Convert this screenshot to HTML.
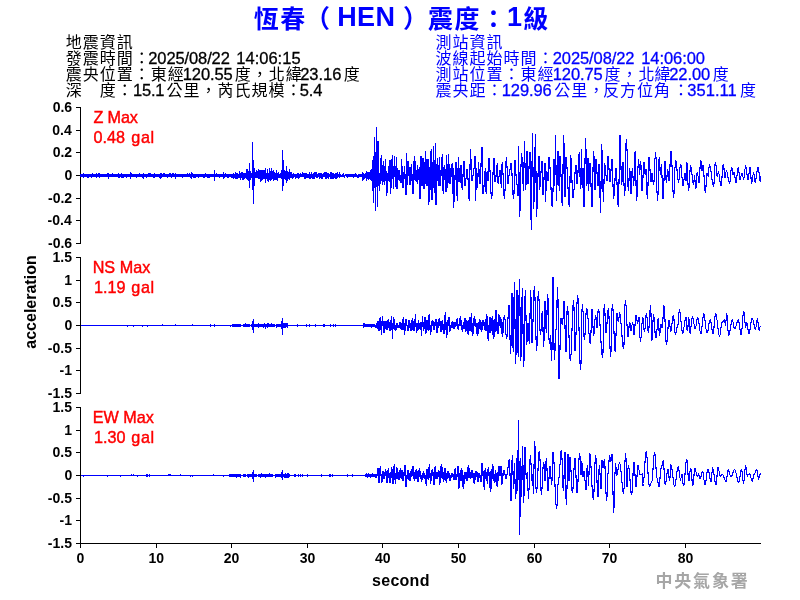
<!DOCTYPE html>
<html lang="zh-Hant"><head><meta charset="utf-8"><title>恆春（HEN）震度：1級</title>
<style>
html,body{margin:0;padding:0;background:#fff}
#p{will-change:transform;position:relative;width:800px;height:600px;overflow:hidden;background:#fff;font-family:"Liberation Sans",sans-serif}
#p svg{position:absolute;left:0;top:0}
.t{position:absolute;white-space:pre;line-height:normal;font-family:"Liberation Sans",sans-serif}
</style></head><body>
<div id="p">
<svg width="800" height="600" viewBox="0 0 800 600">
<g fill="#000" shape-rendering="crispEdges"><rect x="80" y="107" width="1" height="137"/><rect x="76" y="107" width="4" height="1"/><rect x="76" y="130" width="4" height="1"/><rect x="76" y="152" width="4" height="1"/><rect x="76" y="175" width="4" height="1"/><rect x="76" y="198" width="4" height="1"/><rect x="76" y="220" width="4" height="1"/><rect x="76" y="243" width="4" height="1"/><rect x="80" y="257" width="1" height="137"/><rect x="76" y="257" width="4" height="1"/><rect x="76" y="280" width="4" height="1"/><rect x="76" y="302" width="4" height="1"/><rect x="76" y="325" width="4" height="1"/><rect x="76" y="348" width="4" height="1"/><rect x="76" y="370" width="4" height="1"/><rect x="76" y="393" width="4" height="1"/><rect x="80" y="407" width="1" height="137"/><rect x="76" y="407" width="4" height="1"/><rect x="76" y="430" width="4" height="1"/><rect x="76" y="452" width="4" height="1"/><rect x="76" y="475" width="4" height="1"/><rect x="76" y="498" width="4" height="1"/><rect x="76" y="520" width="4" height="1"/><rect x="76" y="543" width="4" height="1"/><rect x="80" y="543" width="681" height="1"/><rect x="80" y="543" width="1" height="5"/><rect x="156" y="543" width="1" height="5"/><rect x="231" y="543" width="1" height="5"/><rect x="307" y="543" width="1" height="5"/><rect x="382" y="543" width="1" height="5"/><rect x="458" y="543" width="1" height="5"/><rect x="534" y="543" width="1" height="5"/><rect x="609" y="543" width="1" height="5"/><rect x="685" y="543" width="1" height="5"/></g>
<g fill="none" stroke="#0000ff" stroke-width="1.1" stroke-linejoin="miter" stroke-miterlimit="3"><g shape-rendering="crispEdges"><path d="M80.5 174.1V176.8M81.5 173.9V176.9M82.5 174.2V177.1M83.5 173.4V177.5M84.5 173.5V176.9M85.5 173.8V177.0M86.5 174.1V176.8M87.5 174.1V177.6M88.5 173.5V177.5M89.5 173.5V176.9M90.5 174.0V177.3M91.5 173.6V177.5M92.5 173.4V176.8M93.5 173.7V177.4M94.5 173.8V176.9M95.5 173.8V176.8M96.5 173.4V177.5M97.5 173.8V177.0M98.5 173.4V177.3M99.5 173.4V177.5M100.5 173.8V177.1M101.5 173.7V177.1M102.5 174.1V177.0M103.5 173.5V176.8M104.5 174.2V177.3M105.5 174.0V177.2M106.5 173.8V177.1M107.5 173.3V176.9M108.5 173.9V176.9M109.5 173.7V177.0M110.5 173.9V177.4M111.5 174.0V177.3M112.5 173.4V176.8M113.5 174.2V176.9M114.5 173.5V177.3M115.5 174.0V177.0M116.5 174.1V177.2M117.5 174.2V177.4M118.5 173.4V177.6M119.5 173.6V177.6M120.5 174.3V177.0M121.5 173.4V177.5M122.5 173.9V177.6M123.5 173.7V177.5M124.5 174.0V176.9M125.5 173.9V176.9M126.5 173.9V177.6M127.5 174.0V176.7M128.5 174.2V176.9M129.5 173.5V177.1M130.5 174.0V176.8M131.5 173.3V177.1M132.5 174.1V176.8M133.5 174.2V176.9M134.5 173.6V176.9M135.5 174.2V177.2M136.5 174.0V177.7M137.5 174.2V177.2M138.5 173.5V177.1M139.5 173.3V177.2M140.5 174.0V177.1M141.5 174.2V177.1M142.5 174.0V177.6M143.5 173.5V177.2M144.5 174.2V177.0M145.5 174.0V176.9M146.5 174.1V177.6M147.5 174.1V176.8M148.5 173.4V177.3M149.5 173.3V177.1M150.5 173.4V177.3M151.5 173.5V177.4M152.5 173.8V176.8M153.5 174.1V177.6M154.5 173.4V177.6M155.5 174.0V177.3M156.5 173.5V177.3M157.5 173.5V177.2M158.5 173.7V177.4M159.5 174.0V177.6M160.5 173.4V176.8M161.5 173.4V177.6M162.5 173.6V176.8M163.5 173.4V176.8M164.5 173.4V177.4M165.5 174.2V176.9M166.5 173.7V177.3M167.5 173.6V177.6M168.5 174.1V176.7M169.5 173.4V176.7M170.5 173.4V176.8M171.5 173.5V177.5M172.5 173.4V177.2M173.5 173.4V176.9M174.5 173.6V177.0M175.5 173.4V177.5M176.5 173.8V177.2M177.5 174.3V176.8M178.5 173.7V177.2M179.5 173.5V177.3M180.5 174.1V177.1M181.5 173.5V177.2M182.5 174.3V177.5M183.5 173.5V176.8M184.5 173.8V177.1M185.5 173.5V177.0M186.5 174.1V177.2M187.5 173.4V176.8M188.5 174.2V177.3M189.5 173.4V177.2M190.5 173.9V177.5M191.5 173.5V176.8M192.5 173.4V176.9M193.5 174.0V177.5M194.5 173.9V177.5M195.5 174.1V177.6M196.5 174.1V176.9M197.5 173.8V177.0M198.5 173.8V177.6M199.5 173.6V176.7M200.5 174.0V177.2M201.5 173.8V177.4M202.5 173.8V176.8M203.5 174.0V177.5M204.5 173.9V177.5M205.5 173.3V177.3M206.5 173.6V177.3M207.5 174.0V177.6M208.5 173.8V177.6M209.5 174.0V177.5M210.5 173.5V177.3M211.5 173.9V176.9M212.5 173.5V177.1M213.5 173.6V176.9M214.5 174.2V176.9M215.5 173.5V176.9M216.5 173.4V177.1M217.5 173.7V177.1M218.5 173.7V176.8M219.5 173.9V177.6M220.5 174.1V177.3M221.5 174.0V177.0M222.5 174.3V176.7M223.5 173.4V177.5M224.5 173.5V177.5M225.5 173.4V176.9M226.5 173.7V177.2M227.5 173.7V177.6M228.5 173.6V177.6M229.5 174.2V177.3M230.5 173.6V177.4M231.5 173.7V177.5M232.5 174.0V178.4M233.5 172.6V179.1M234.5 173.5V177.5M235.5 172.1V178.7M236.5 173.2V178.9M237.5 172.8V179.4M238.5 173.6V177.8M239.5 170.9V178.3M240.5 172.9V179.9M241.5 171.5V177.8M242.5 171.7V179.7M243.5 173.0V179.8M244.5 173.1V178.8M245.5 173.2V178.3M246.5 169.4V179.3M247.5 169.1V179.5M248.5 171.1V181.0M249.5 170.8V177.9M250.5 171.1V180.0M251.5 172.8V177.9M252.5 170.0V179.6M253.5 172.7V179.3M254.5 172.6V180.7M255.5 171.5V177.9M256.5 170.2V177.9M257.5 171.4V178.2M258.5 169.1V178.7M259.5 170.2V178.6M260.5 170.4V181.7M261.5 170.1V180.5M262.5 170.4V180.4M263.5 169.8V178.6M264.5 170.4V179.3M265.5 168.4V183.0M266.5 172.6V178.8M267.5 169.2V181.1M268.5 172.8V181.8M269.5 168.0V180.3M270.5 171.1V181.1M271.5 168.0V179.5M272.5 171.3V179.1M273.5 169.6V180.5M274.5 171.6V180.1M275.5 172.7V179.7M276.5 169.9V179.6M277.5 172.5V181.0M278.5 172.2V178.4M279.5 173.5V178.0M280.5 172.8V178.3M281.5 169.7V178.7M282.5 172.4V180.1M283.5 169.5V178.8M284.5 170.2V179.1M285.5 171.0V180.1M286.5 169.4V180.8M287.5 171.3V181.1M288.5 171.9V179.2M289.5 169.4V179.9M290.5 172.2V177.6M291.5 171.8V178.4M292.5 173.6V179.2M293.5 173.0V177.7M294.5 173.5V177.1M295.5 173.7V178.6M296.5 173.8V177.5M297.5 173.0V178.2M298.5 173.2V178.8M299.5 173.5V177.8M300.5 173.1V177.1M301.5 173.6V177.2M302.5 172.3V177.2M303.5 172.5V177.4M304.5 172.5V178.5M305.5 173.3V179.2M306.5 172.5V178.2M307.5 174.1V177.9M308.5 173.5V178.0M309.5 171.8V179.0M310.5 174.0V178.6M311.5 171.8V178.2M312.5 173.9V179.1M313.5 173.1V179.3M314.5 171.9V179.0M315.5 171.8V177.0M316.5 172.1V177.6M317.5 173.8V177.8M318.5 172.7V176.8M319.5 173.0V178.8M320.5 172.9V178.2M321.5 173.4V179.3M322.5 173.6V178.6M323.5 172.5V176.8M324.5 171.6V177.4M325.5 171.6V179.2M326.5 171.9V179.0M327.5 173.2V178.0M328.5 173.3V179.2M329.5 174.1V177.2M330.5 171.7V178.9M331.5 172.4V179.3M332.5 172.8V179.0M333.5 173.0V179.1M334.5 174.0V177.9M335.5 172.7V178.9M336.5 173.1V178.6M337.5 171.7V177.9M338.5 173.7V176.9M339.5 172.0V178.0M340.5 174.1V177.1M341.5 174.5V176.7M342.5 174.3V176.7M343.5 173.3V176.7M344.5 174.6V177.7M345.5 173.8V176.3M346.5 173.6V177.4M347.5 173.7V177.5M348.5 174.0V176.7M349.5 173.5V177.3M350.5 173.6V176.6M351.5 174.1V177.4M352.5 174.1V177.3M353.5 173.9V177.5M354.5 174.1V177.1M355.5 173.4V176.8M356.5 174.4V177.3M357.5 174.5V177.7M358.5 174.3V177.7M359.5 173.8V176.5M360.5 173.9V177.4M361.5 173.9V177.3M362.5 172.2V181.0M363.5 172.9V180.4M364.5 173.5V179.3M365.5 173.3V177.9M366.5 171.4V180.8M367.5 172.4V178.9M368.5 171.8V179.7M369.5 172.3V178.7M370.5 170.4V179.5M371.5 172.3V180.5M214.5 169.5V180.5M130.5 172.0V179.0M160.5 172.5V178.5M191.5 171.5V179.0M108.5 172.5V178.5M143.5 172.8V178.6M175.5 173.0V179.0M223.5 172.0V179.0M249.5 163.0V188.0M252.5 142.0V190.0M253.5 160.0V203.6M254.5 168.0V186.0M282.5 150.0V191.0M283.5 160.0V186.0M286.5 166.0V183.0"/><path d="M372.5 159.9V190.6M373.5 159.8V203.0M374.5 137.0V181.2M375.5 158.1V210.6M376.5 127.0V186.5M377.5 141.0V207.0M378.5 141.0V186.3M379.5 173.4V191.0M380.5 162.2V180.2M381.5 155.0V181.1M382.5 164.6V185.0M383.5 161.0V182.2M384.5 166.4V184.5M385.5 159.0V180.8M386.5 171.1V196.0M387.5 174.7V191.8M388.5 170.6V181.2M389.5 160.0V182.2M390.5 160.0V194.0M391.5 163.2V183.7M392.5 155.0V179.1M393.5 169.1V189.0M394.5 156.0V176.2M395.5 168.9V186.7M396.5 157.0V189.0M397.5 168.3V189.0M398.5 170.4V179.7M399.5 170.4V181.4M400.5 174.6V183.0M401.5 159.0V183.0M402.5 168.7V188.0M403.5 174.4V188.0M404.5 165.8V179.2M405.5 174.1V195.0M406.5 153.0V195.0M407.5 161.0V184.5M408.5 161.0V176.1M409.5 167.1V185.0M410.5 166.5V185.0M411.5 164.0V180.7M412.5 174.4V194.0M413.5 166.9V194.0M414.5 156.0V180.1M415.5 161.4V180.8M416.5 170.1V181.3M417.5 165.1V183.0M418.5 169.1V179.5M419.5 166.7V199.0M420.5 156.0V199.0M421.5 156.0V186.1M422.5 158.0V186.1M423.5 158.0V189.0M424.5 165.2V189.0M425.5 151.0V184.2M426.5 162.5V185.6M427.5 159.0V186.4M428.5 159.0V205.0M429.5 167.2V197.0M430.5 157.0V190.0M431.5 149.0V200.0M432.5 166.3V200.0M433.5 146.0V188.2M434.5 165.1V192.7M435.5 143.0V205.0M436.5 163.9V205.0M437.5 158.0V181.1M438.5 165.1V186.1M439.5 157.0V186.0M440.5 169.7V184.8M441.5 161.1V176.2M442.5 154.0V186.0M443.5 166.8V194.0M444.5 164.6V179.5M445.5 168.8V192.0M446.5 155.0V192.0M447.5 168.2V187.8M448.5 154.0V183.4M449.5 165.3V184.0M450.5 167.6V184.0M451.5 166.5V176.8M452.5 163.0V190.0M453.5 167.9V208.0M454.5 174.6V197.4M455.5 162.0V179.7M456.5 162.0V189.9M457.5 167.9V201.0M458.5 157.0V182.1M459.5 167.8V182.3M460.5 165.0V183.3M461.5 165.0V188.0"/><path d="M232.5 324.2V327.3M233.5 323.8V327.1M234.5 324.2V327.4M235.5 323.6V327.1M236.5 323.9V326.8M237.5 324.4V327.0M238.5 323.8V326.7M243.5 323.6V326.8M244.5 324.2V326.7M245.5 323.4V327.3M246.5 323.5V327.2M247.5 324.3V326.9M248.5 323.9V326.7M249.5 323.5V327.0M251.5 324.2V327.4M252.5 324.3V327.5M253.5 323.9V327.1M254.5 324.1V327.1M255.5 324.2V326.7M256.5 323.5V326.8M257.5 323.6V326.8M258.5 323.4V327.5M259.5 323.7V327.4M260.5 323.8V327.3M261.5 324.3V327.1M262.5 323.6V326.8M263.5 323.5V327.5M269.5 324.0V327.0M270.5 323.9V327.0M271.5 323.4V327.0M272.5 324.4V326.7M276.5 323.7V327.6M277.5 323.9V327.1M278.5 323.9V327.3M279.5 324.2V327.2M280.5 323.8V327.2M264.5 322.6V327.3M265.5 323.9V328.5M266.5 323.6V327.3M267.5 323.0V327.6M268.5 322.7V327.4M283.5 322.6V327.6M284.5 323.1V328.4M285.5 322.9V328.4M286.5 322.9V327.2M287.5 322.7V327.9M363.5 323.3V327.7M364.5 323.3V326.7M365.5 323.7V327.1M366.5 323.8V326.8M367.5 324.2V327.1M368.5 324.1V327.1M369.5 324.4V326.7M370.5 323.6V327.1M371.5 323.8V327.5M372.5 324.0V326.7M373.5 323.5V327.3M374.5 323.6V327.3M239.5 324.0V327.0M240.5 324.0V327.0M273.5 324.0V327.0M274.5 324.0V327.0M297.5 324.0V327.0M306.5 324.0V327.0M309.5 324.0V327.0M315.5 324.0V327.0M323.5 324.0V327.0M324.5 324.0V327.0M330.5 324.0V327.0M333.5 324.0V327.0M335.5 324.0V327.0M127.5 325.0V327.0M133.5 325.0V327.0M142.5 325.0V327.0M147.5 325.0V327.0M230.5 325.0V327.0M162.5 324.0V326.0M175.5 324.0V326.0M192.5 324.0V326.0M210.5 324.0V327.0M214.5 324.0V327.0M252.5 321.0V330.0M253.5 319.0V332.5M281.5 321.0V329.0M282.5 318.0V334.5"/><path d="M374.5 323.7V327.4M375.5 325.3V328.0M376.5 322.6V328.1M377.5 321.0V329.1M378.5 321.0V331.0M379.5 320.7V331.0M380.5 316.6V329.3M381.5 321.3V335.4M382.5 316.0V326.1M383.5 322.4V333.0M384.5 321.0V333.0M385.5 321.0V329.2M386.5 321.1V330.0M387.5 321.8V330.0M388.5 319.0V327.8M389.5 321.8V330.6M390.5 321.5V330.6M391.5 316.0V329.4M392.5 323.1V339.4M393.5 317.4V328.4M394.5 320.1V329.5M395.5 325.1V331.0M396.5 323.0V328.7M397.5 323.0V328.3M398.5 325.1V328.0M399.5 322.0V328.0M400.5 322.0V328.6M401.5 323.2V330.0M402.5 321.0V330.0M403.5 317.4V328.2M404.5 323.2V335.4M405.5 319.4V329.4M406.5 319.4V325.9M407.5 325.0V331.0M408.5 320.0V331.0M409.5 320.0V328.1M410.5 323.3V331.0M411.5 320.6V331.0M412.5 318.0V329.5M413.5 321.2V330.6M414.5 320.2V330.6M415.5 314.0V327.0M416.5 323.1V333.0M417.5 322.7V329.7M418.5 320.0V329.9M419.5 324.4V328.6M420.5 321.7V329.7M421.5 322.0V336.0M422.5 316.0V326.0M423.5 321.7V331.0M424.5 317.4V328.4M425.5 317.4V333.0M426.5 320.3V331.1M427.5 321.6V330.0M428.5 316.9V330.9M429.5 315.0V329.6M430.5 324.7V335.0M431.5 321.1V330.5M432.5 320.0V325.8M433.5 320.5V329.0M434.5 323.2V329.7M435.5 319.0V325.9M436.5 319.0V333.0M437.5 322.0V333.0M438.5 320.5V326.7M439.5 318.0V326.2M440.5 320.9V332.0M441.5 323.4V332.0M442.5 320.0V329.8M443.5 325.1V334.0M444.5 318.6V334.0M445.5 312.4V327.4M446.5 322.2V337.4M447.5 320.2V332.8M448.5 317.4V326.0M449.5 317.4V331.0M450.5 325.1V331.0M451.5 322.9V328.4M452.5 322.0V327.9M453.5 321.8V328.6M454.5 322.0V328.6M455.5 322.7V326.6M456.5 319.8V325.7M457.5 318.6V329.4M458.5 324.4V329.4M459.5 319.4V326.0M460.5 317.4V325.9M461.5 321.5V328.4M462.5 325.1V331.0M463.5 323.0V328.0M464.5 318.0V329.4M465.5 318.0V332.0M466.5 320.0V329.8M467.5 320.9V331.3M468.5 320.1V335.4M469.5 317.4V330.8M470.5 317.4V331.0M471.5 313.0V332.2M472.5 324.5V336.0M473.5 319.6V331.8M474.5 317.0V326.0M475.5 320.5V326.2M476.5 322.6V331.9M477.5 322.8V335.4M478.5 322.0V332.1M479.5 319.0V328.7M480.5 321.6V328.1M481.5 321.9V332.0M482.5 320.0V328.9M483.5 320.0V326.1M484.5 321.6V330.3M485.5 320.0V330.8M486.5 314.0V331.1M487.5 319.9V334.7M488.5 325.0V340.6M489.5 317.4V331.9M490.5 317.4V333.1M491.5 318.4V331.0M492.5 316.0V334.7M493.5 320.2V339.0M494.5 319.2V334.3M495.5 310.6V332.3M496.5 310.6V331.4M497.5 321.5V334.0M498.5 315.0V334.0M499.5 315.0V325.9M500.5 317.0V328.2M501.5 319.0V331.6M502.5 321.8V336.6"/><path d="M229.5 474.4V476.7M230.5 474.0V477.3M231.5 474.2V476.7M232.5 474.2V477.3M233.5 474.2V477.3M234.5 473.7V476.8M235.5 473.9V477.0M236.5 474.0V477.6M237.5 474.3V476.6M238.5 473.5V477.0M239.5 474.2V476.9M240.5 474.0V477.5M243.5 474.2V476.8M244.5 473.8V477.1M245.5 473.5V477.4M247.5 474.0V476.8M248.5 473.6V477.6M249.5 474.4V477.3M250.5 473.5V477.2M251.5 474.2V477.4M254.5 473.7V476.8M255.5 473.8V476.8M256.5 474.3V476.9M258.5 474.1V477.0M259.5 473.8V477.4M260.5 473.5V477.6M261.5 473.4V477.4M262.5 474.1V476.8M263.5 473.8V477.1M264.5 473.7V476.7M265.5 474.2V477.5M266.5 473.8V477.3M267.5 474.3V477.0M268.5 473.5V477.2M269.5 473.4V476.8M270.5 473.9V477.4M271.5 474.0V477.4M272.5 473.8V476.7M275.5 474.3V477.6M276.5 474.3V476.8M277.5 474.1V477.3M278.5 473.6V477.1M279.5 473.9V477.4M280.5 474.1V477.0M283.5 473.9V477.3M284.5 473.6V478.2M285.5 473.3V478.0M286.5 473.8V477.7M287.5 472.8V477.7M288.5 472.7V478.2M289.5 473.5V477.0M365.5 473.7V477.4M366.5 473.4V476.9M367.5 473.6V477.7M368.5 473.3V476.8M369.5 473.6V477.3M370.5 473.8V477.8M371.5 473.8V477.1M372.5 473.3V477.4M373.5 474.0V477.0M374.5 473.8V476.7M375.5 473.7V477.5M376.5 473.9V477.6M294.5 474.0V477.0M295.5 474.0V477.0M298.5 474.0V477.0M300.5 474.0V477.0M302.5 474.0V477.0M307.5 474.0V477.0M321.5 474.0V477.0M329.5 474.0V477.0M330.5 474.0V477.0M332.5 474.0V477.0M347.5 474.0V477.0M352.5 474.0V477.0M83.5 475.0V477.0M107.5 475.0V477.0M120.5 475.0V477.0M137.5 475.0V477.0M190.5 475.0V477.0M192.5 475.0V477.0M223.5 475.0V477.0M131.5 474.0V476.0M133.5 474.0V476.0M168.5 474.0V476.0M169.5 474.0V476.0M170.5 474.0V476.0M180.5 474.0V476.0M213.5 474.0V476.0M146.5 474.0V477.0M147.5 474.0V477.0M149.5 474.0V477.0M252.5 471.5V479.0M253.5 470.0V482.0M281.5 472.0V478.0M282.5 470.0V479.5M378.5 468.0V483.0"/><path d="M378.5 468.0V482.6M379.5 470.7V482.6M380.5 466.0V475.7M381.5 473.6V483.4M382.5 471.0V479.9M383.5 471.0V478.6M384.5 472.6V479.1M385.5 469.0V475.8M386.5 473.0V483.0M387.5 472.7V483.0M388.5 468.6V478.4M389.5 474.0V483.0M390.5 472.2V483.0M391.5 467.0V478.3M392.5 471.3V484.0M393.5 469.7V484.0M394.5 464.0V479.7M395.5 474.0V484.0M396.5 467.4V477.4M397.5 469.5V478.7M398.5 472.4V480.0M399.5 471.9V480.0M400.5 468.6V478.0M401.5 471.5V478.9M402.5 470.4V481.0M403.5 473.0V481.0M404.5 465.0V475.9M405.5 465.0V486.6M406.5 475.1V486.6M407.5 470.0V478.4M408.5 470.0V479.8M409.5 472.6V481.0M410.5 471.4V481.0M411.5 471.0V476.0M412.5 466.0V475.9M413.5 466.0V476.7M414.5 472.2V481.0M415.5 471.4V478.2M416.5 469.0V478.8M417.5 471.4V482.0M418.5 472.4V482.0M419.5 468.6V477.1M420.5 472.0V477.6M421.5 475.3V481.0M422.5 474.7V479.2M423.5 472.0V477.7M424.5 473.8V478.3M425.5 474.9V482.8M426.5 468.6V484.6M427.5 468.6V478.3M428.5 469.4V480.3M429.5 464.0V478.2M430.5 473.3V484.0M431.5 470.9V479.8M432.5 469.0V475.8M433.5 471.7V485.0M434.5 466.6V485.0M435.5 466.6V479.4M436.5 471.5V479.0M437.5 472.3V479.0M438.5 470.0V476.0M439.5 470.6V485.0M440.5 468.7V480.3M441.5 464.0V477.7M442.5 468.9V477.1M443.5 471.7V482.0M444.5 468.6V478.2M445.5 468.6V478.9M446.5 473.2V483.0M447.5 471.0V478.8M448.5 471.0V477.9M449.5 473.2V480.6M450.5 475.3V480.6M451.5 473.0V478.0M452.5 473.0V477.3M453.5 473.7V480.0M454.5 468.6V480.0M455.5 468.6V480.3M456.5 473.5V480.3M457.5 466.0V476.1M458.5 466.0V488.6M459.5 472.7V485.9M460.5 471.8V480.6M461.5 468.6V481.1M462.5 473.0V484.2M463.5 475.2V488.6M464.5 472.0V482.4M465.5 472.0V478.6M466.5 471.9V481.0M467.5 469.6V481.0M468.5 465.0V477.5M469.5 469.2V477.8M470.5 472.2V479.0M471.5 470.0V478.0M472.5 470.0V478.4M473.5 472.7V481.7M474.5 473.1V484.0M475.5 471.0V479.1M476.5 471.0V476.5M477.5 472.2V482.0M478.5 473.0V482.0M479.5 473.0V477.5M480.5 474.9V482.0M481.5 463.0V482.0M482.5 463.0V476.1M483.5 473.1V483.8M484.5 472.4V490.0M485.5 468.0V479.3M486.5 471.6V480.6M487.5 470.6V484.2M488.5 467.4V476.1M489.5 472.5V484.9M490.5 471.0V491.4M491.5 472.6V486.0M492.5 464.6V478.8M493.5 468.7V478.9M494.5 474.8V483.0M495.5 470.0V481.8M496.5 474.8V483.9M497.5 471.8V487.4M498.5 466.6V479.6M499.5 466.6V476.0M500.5 466.8V476.1M501.5 467.0V485.0M502.5 472.8V482.5"/><path d="M371.5 175.5 L372.6 162.0 L373.0 182.5 L373.4 203.0 L373.7 186.5 L374.1 153.5 L374.4 137.0 L374.7 155.4 L375.1 192.2 L375.4 210.6 L375.7 189.7 L376.1 147.9 L376.4 127.0 L376.7 147.0 L377.1 187.0 L377.4 207.0 L377.7 174.0 L378.0 141.0 L378.4 148.3 L378.7 166.0 L379.0 183.7 L379.4 191.0 L379.7 188.6 L380.1 182.0 L380.4 173.0 L380.7 164.0 L381.1 157.4 L381.4 155.0 L381.7 159.4 L382.0 170.0 L382.3 180.6 L382.6 185.0 L383.0 173.0 L383.4 161.0 L383.8 166.9 L384.1 178.6 L384.5 184.5 L384.9 178.1 L385.2 165.4 L385.6 159.0 L385.9 168.2 L386.3 186.8 L386.6 196.0 L386.9 193.6 L387.3 187.4 L387.6 179.7 L388.0 173.5 L388.3 171.1 L388.6 170.0 L389.0 167.3 L389.3 163.8 L389.7 161.1 L390.0 160.0 L390.5 194.0 L390.8 191.4 L391.1 184.2 L391.4 174.5 L391.8 164.8 L392.1 157.6 L392.4 155.0 L392.7 163.5 L393.1 180.5 L393.4 189.0 L393.7 180.8 L394.1 164.2 L394.4 156.0 L394.7 163.7 L395.1 179.0 L395.4 186.7 L395.7 179.3 L396.1 164.4 L396.4 157.0 L396.7 173.0 L397.0 189.0 L397.3 187.8 L397.7 184.3 L398.0 179.7 L398.3 175.0 L398.7 171.6 L399.0 170.4 L399.3 171.2 L399.7 173.5 L400.0 176.7 L400.3 179.8 L400.7 182.2 L401.0 183.0 L401.5 159.0 L401.8 161.8 L402.1 169.0 L402.4 178.0 L402.7 185.2 L403.0 188.0 L403.3 186.1 L403.6 181.0 L403.9 174.7 L404.2 169.6 L404.5 167.6 L404.8 170.2 L405.1 177.1 L405.4 185.5 L405.7 192.4 L406.0 195.0 L406.5 153.0 L406.9 168.7 L407.2 184.5 L407.6 172.7 L408.0 161.0 L408.3 162.6 L408.7 167.0 L409.0 173.0 L409.3 179.0 L409.7 183.4 L410.0 185.0 L410.4 181.9 L410.7 174.5 L411.0 167.1 L411.4 164.0 L411.7 166.9 L412.0 174.4 L412.4 183.6 L412.7 191.1 L413.0 194.0 L413.4 188.4 L413.7 175.0 L414.0 161.6 L414.4 156.0 L414.7 158.1 L415.0 163.7 L415.3 170.5 L415.6 176.0 L415.9 178.2 L416.2 178.6 L416.5 179.8 L416.8 181.3 L417.1 182.5 L417.4 183.0 L417.7 181.2 L418.0 176.7 L418.4 172.2 L418.7 170.4 L419.0 174.6 L419.4 184.7 L419.7 194.8 L420.0 199.0 L420.3 188.2 L420.7 166.8 L421.0 156.0 L421.3 163.5 L421.7 178.6 L422.0 186.1 L422.3 179.1 L422.7 165.0 L423.0 158.0 L423.3 165.8 L423.7 181.2 L424.0 189.0 L424.3 185.4 L424.6 175.9 L425.0 164.1 L425.3 154.6 L425.6 151.0 L426.0 159.6 L426.4 176.9 L426.8 185.6 L427.2 178.9 L427.6 165.6 L428.0 159.0 L428.3 182.0 L428.6 205.0 L428.9 203.3 L429.2 198.4 L429.5 191.0 L429.8 181.9 L430.2 172.1 L430.5 163.0 L430.8 155.6 L431.1 150.7 L431.4 149.0 L431.7 174.5 L432.0 200.0 L432.3 194.8 L432.6 181.3 L433.0 164.7 L433.3 151.2 L433.6 146.0 L434.1 169.4 L434.5 192.7 L434.9 167.9 L435.4 143.0 L435.7 174.0 L436.0 205.0 L436.4 198.1 L436.7 181.5 L437.0 164.9 L437.4 158.0 L437.7 165.0 L438.1 179.1 L438.4 186.1 L438.7 178.8 L439.1 164.3 L439.4 157.0 L439.9 186.0 L440.2 185.0 L440.5 182.3 L440.8 178.0 L441.1 172.8 L441.4 167.2 L441.7 162.0 L442.0 157.7 L442.3 155.0 L442.6 154.0 L443.1 194.0 L443.5 189.8 L443.8 179.7 L444.2 169.6 L444.6 165.4 L444.9 169.3 L445.3 178.7 L445.6 188.1 L446.0 192.0 L446.5 155.0 L446.8 163.2 L447.1 179.6 L447.4 187.8 L447.8 179.3 L448.1 162.4 L448.4 154.0 L448.7 156.9 L449.0 164.4 L449.4 173.6 L449.7 181.1 L450.0 184.0 L450.3 183.0 L450.7 180.0 L451.0 175.8 L451.4 171.2 L451.7 167.0 L452.1 164.0 L452.4 163.0 L452.7 174.2 L453.1 196.8 L453.4 208.0 L453.7 206.2 L454.0 201.3 L454.4 193.8 L454.7 185.0 L455.0 176.2 L455.4 168.7 L455.7 163.8 L456.0 162.0 L456.4 167.7 L456.7 181.5 L457.0 195.3 L457.4 201.0 L457.7 190.0 L458.1 168.0 L458.4 157.0 L458.7 160.7 L459.0 169.6 L459.4 178.6 L459.7 182.3 L460.0 179.7 L460.4 173.6 L460.7 167.5 L461.0 165.0 L461.5 183.0 L461.6 170.4 L462.1 190.0 L462.4 188.1 L462.7 182.8 L463.0 175.5 L463.4 168.2 L463.7 162.9 L464.0 161.0 L464.3 167.2 L464.7 179.8 L465.0 186.0 L465.3 185.1 L465.6 182.7 L465.9 179.3 L466.3 175.4 L466.6 172.0 L466.9 169.6 L467.2 168.7 L467.5 170.3 L467.8 174.7 L468.1 181.1 L468.5 188.2 L468.8 194.6 L469.1 199.0 L469.4 200.6 L469.7 187.7 L470.1 161.9 L470.4 149.0 L470.7 152.1 L471.0 160.1 L471.4 169.9 L471.7 177.9 L472.0 181.0 L472.3 180.3 L472.6 178.3 L472.9 176.0 L473.2 174.0 L473.5 173.3 L473.8 171.6 L474.1 167.3 L474.4 162.0 L474.7 157.7 L475.0 156.0 L475.3 178.3 L475.6 200.6 L475.9 192.4 L476.3 175.9 L476.6 167.6 L476.9 172.7 L477.3 182.9 L477.6 188.0 L478.0 175.0 L478.4 162.0 L478.7 164.1 L479.0 169.6 L479.4 176.4 L479.7 181.9 L480.0 184.0 L480.3 181.5 L480.7 174.8 L481.0 165.5 L481.3 156.2 L481.7 149.5 L482.0 147.0 L482.3 158.8 L482.7 182.2 L483.0 194.0 L483.3 193.0 L483.6 190.2 L484.0 186.0 L484.3 181.0 L484.6 176.0 L485.0 171.8 L485.3 169.0 L485.6 168.0 L486.1 194.0 L486.4 188.4 L486.7 177.1 L487.1 171.5 L487.4 173.9 L487.7 178.6 L488.0 181.0 L488.3 175.2 L488.7 163.8 L489.0 158.0 L489.3 159.5 L489.6 163.9 L490.0 170.5 L490.3 178.3 L490.6 186.1 L491.0 192.7 L491.3 197.1 L491.6 198.6 L491.9 196.6 L492.3 191.0 L492.6 182.8 L493.0 173.8 L493.3 165.6 L493.7 160.0 L494.0 158.0 L494.3 164.0 L494.7 176.0 L495.0 182.0 L495.3 181.3 L495.6 179.2 L496.0 176.1 L496.3 172.5 L496.6 168.9 L497.0 165.8 L497.3 163.7 L497.6 163.0 L498.1 184.0 L498.5 182.6 L498.8 179.1 L499.2 174.7 L499.5 171.2 L499.9 169.8 L500.2 171.6 L500.6 176.1 L500.9 181.7 L501.2 186.3 L501.6 188.0 L502.1 162.0 L502.4 163.8 L502.8 168.9 L503.1 176.2 L503.4 184.4 L503.7 191.7 L504.1 196.8 L504.4 198.6 L504.7 195.8 L505.1 188.2 L505.4 177.8 L505.7 167.4 L506.1 159.8 L506.4 157.0 L506.7 159.6 L507.0 166.3 L507.4 174.7 L507.7 181.4 L508.0 184.0 L508.3 182.9 L508.6 179.9 L508.9 176.3 L509.2 173.4 L509.5 172.2 L509.8 171.4 L510.1 169.1 L510.4 166.2 L510.7 163.9 L511.0 163.0 L511.3 164.4 L511.6 168.3 L512.0 174.1 L512.3 181.0 L512.6 187.9 L513.0 193.7 L513.3 197.6 L513.6 199.0 L514.0 193.3 L514.3 179.5 L514.6 165.7 L515.0 160.0 L515.3 161.9 L515.6 167.0 L515.9 173.2 L516.2 178.3 L516.5 180.2 L516.8 181.7 L517.1 185.7 L517.4 190.6 L517.7 194.5 L518.0 196.0 L518.5 146.0 L518.9 163.8 L519.2 199.6 L519.6 217.4 L519.9 213.1 L520.3 201.3 L520.6 185.2 L520.9 169.1 L521.3 157.3 L521.6 153.0 L521.9 155.5 L522.3 162.5 L522.6 172.0 L522.9 181.5 L523.3 188.5 L523.6 191.0 L524.0 166.0 L524.4 141.0 L524.7 148.2 L525.0 165.5 L525.4 182.8 L525.7 190.0 L526.0 184.3 L526.4 170.5 L526.7 156.7 L527.0 151.0 L527.3 159.2 L527.7 175.8 L528.0 184.0 L528.3 181.9 L528.7 176.0 L529.0 168.0 L529.3 160.0 L529.7 154.1 L530.0 152.0 L530.4 163.4 L530.7 191.0 L531.0 218.6 L531.4 230.0 L531.7 205.8 L532.1 157.2 L532.4 133.0 L532.7 144.1 L533.0 171.0 L533.3 197.9 L533.6 209.0 L533.9 204.0 L534.3 190.2 L534.6 171.5 L534.9 152.8 L535.3 139.0 L535.6 134.0 L536.0 175.7 L536.4 217.4 L536.7 215.1 L537.0 208.4 L537.4 198.4 L537.7 186.7 L538.0 175.0 L538.4 165.0 L538.7 158.3 L539.0 156.0 L539.5 190.0 L539.8 188.9 L540.1 185.8 L540.4 181.0 L540.8 175.5 L541.1 170.0 L541.4 165.2 L541.7 162.1 L542.0 161.0 L542.3 169.5 L542.7 186.5 L543.0 195.0 L543.3 192.9 L543.7 187.0 L544.0 179.0 L544.3 171.0 L544.7 165.1 L545.0 163.0 L545.5 202.0 L545.8 197.5 L546.1 186.7 L546.4 175.9 L546.8 171.5 L547.1 172.9 L547.4 176.2 L547.7 179.6 L548.0 181.0 L548.3 175.0 L548.7 163.0 L549.0 157.0 L549.3 158.0 L549.6 161.0 L549.9 165.7 L550.2 171.7 L550.5 178.6 L550.9 185.8 L551.2 192.7 L551.5 198.7 L551.8 203.4 L552.1 206.4 L552.4 207.4 L552.7 202.8 L553.0 190.7 L553.4 175.7 L553.7 163.6 L554.0 159.0 L554.4 172.3 L554.8 185.6 L555.2 160.3 L555.6 135.0 L556.0 167.8 L556.4 200.6 L556.7 195.9 L557.0 183.5 L557.4 168.1 L557.7 155.7 L558.0 151.0 L558.4 156.9 L558.7 171.0 L559.0 185.1 L559.4 191.0 L559.7 173.5 L560.0 156.0 L560.3 158.5 L560.7 165.4 L561.0 175.4 L561.4 186.6 L561.7 196.6 L562.1 203.5 L562.4 206.0 L562.7 195.6 L563.0 170.5 L563.3 145.4 L563.6 135.0 L564.0 144.1 L564.3 166.0 L564.6 187.9 L565.0 197.0 L565.3 187.0 L565.7 167.0 L566.0 157.0 L566.3 158.0 L566.6 160.9 L566.9 165.6 L567.2 171.5 L567.5 178.3 L567.9 185.3 L568.2 192.1 L568.5 198.0 L568.8 202.7 L569.1 205.6 L569.4 206.6 L569.7 199.0 L570.0 180.8 L570.3 162.6 L570.6 155.0 L570.9 157.1 L571.3 163.1 L571.6 171.7 L572.0 181.3 L572.3 189.9 L572.7 195.9 L573.0 198.0 L573.3 197.2 L573.6 194.8 L573.9 191.2 L574.2 186.6 L574.5 181.5 L574.8 176.4 L575.1 171.8 L575.4 168.2 L575.7 165.8 L576.0 165.0 L576.3 169.8 L576.7 179.2 L577.0 184.0 L577.3 182.4 L577.7 178.0 L578.0 171.6 L578.4 164.4 L578.7 158.0 L579.1 153.6 L579.4 152.0 L579.8 161.4 L580.1 180.1 L580.5 189.4 L580.9 179.3 L581.2 159.1 L581.6 149.0 L582.1 188.0 L582.4 182.9 L582.7 172.7 L583.0 167.6 L583.4 177.6 L583.7 197.5 L584.0 207.4 L584.3 200.8 L584.6 183.4 L585.0 162.0 L585.3 144.6 L585.6 138.0 L586.0 150.0 L586.4 174.1 L586.8 186.1 L587.1 182.0 L587.4 172.1 L587.7 162.1 L588.0 158.0 L588.5 191.0 L588.8 188.3 L589.1 181.3 L589.4 172.7 L589.7 165.7 L590.0 163.0 L590.3 165.9 L590.7 173.9 L591.0 184.8 L591.3 195.7 L591.7 203.7 L592.0 206.6 L592.3 201.3 L592.6 187.4 L593.0 170.2 L593.3 156.3 L593.6 151.0 L594.0 156.7 L594.3 170.5 L594.6 184.3 L595.0 190.0 L595.3 182.2 L595.7 166.8 L596.0 159.0 L596.3 160.8 L596.7 165.8 L597.0 172.5 L597.3 179.2 L597.7 184.2 L598.0 186.0 L598.3 180.5 L598.7 169.5 L599.0 164.0 L599.3 168.6 L599.6 180.8 L600.0 195.8 L600.3 208.0 L600.6 212.6 L600.9 195.4 L601.3 161.2 L601.6 144.0 L601.9 147.9 L602.3 158.5 L602.6 173.0 L602.9 187.5 L603.3 198.1 L603.6 202.0 L604.0 182.5 L604.4 163.0 L604.7 163.7 L605.0 165.6 L605.4 168.6 L605.7 172.0 L606.0 175.4 L606.4 178.4 L606.7 180.3 L607.0 181.0 L607.3 174.8 L607.7 162.2 L608.0 156.0 L608.3 157.7 L608.7 162.5 L609.0 169.0 L609.3 175.5 L609.7 180.3 L610.0 182.0 L610.3 180.5 L610.7 176.2 L611.0 170.5 L611.3 164.8 L611.7 160.5 L612.0 159.0 L612.3 162.8 L612.6 172.7 L613.0 184.9 L613.3 194.8 L613.6 198.6 L613.9 197.1 L614.3 192.8 L614.6 186.7 L615.0 179.9 L615.3 173.8 L615.7 169.5 L616.0 168.0 L616.3 170.0 L616.7 175.4 L617.0 183.3 L617.4 192.1 L617.7 200.0 L618.1 205.4 L618.4 207.4 L618.7 200.5 L619.0 182.4 L619.4 160.0 L619.7 141.9 L620.0 135.0 L620.3 139.8 L620.6 152.3 L621.0 167.7 L621.3 180.2 L621.6 185.0 L622.0 181.6 L622.3 173.5 L622.6 165.4 L623.0 162.0 L623.3 165.2 L623.6 173.7 L624.0 184.3 L624.3 192.8 L624.6 196.0 L625.0 190.6 L625.3 176.3 L625.7 158.7 L626.0 144.4 L626.4 139.0 L626.7 142.5 L627.1 152.0 L627.4 165.0 L627.7 178.0 L628.1 187.5 L628.4 191.0 L628.7 187.6 L629.0 179.5 L629.3 171.4 L629.6 168.0 L630.0 171.8 L630.3 181.0 L630.6 190.2 L631.0 194.0 L631.4 190.2 L631.7 181.0 L632.0 171.8 L632.4 168.0 L632.7 170.6 L633.0 177.0 L633.3 183.4 L633.6 186.0 L633.9 182.7 L634.2 173.9 L634.6 163.1 L634.9 154.3 L635.2 151.0 L635.6 158.3 L635.9 175.8 L636.2 193.3 L636.6 200.6 L636.9 197.8 L637.3 190.2 L637.6 179.8 L637.9 169.4 L638.3 161.8 L638.6 159.0 L638.9 163.0 L639.3 171.0 L639.6 175.0 L639.9 171.5 L640.3 164.5 L640.6 161.0 L641.0 165.4 L641.3 176.0 L641.6 186.6 L642.0 191.0 L642.3 189.1 L642.7 183.8 L643.0 176.5 L643.3 169.2 L643.7 163.9 L644.0 162.0 L644.3 163.9 L644.6 168.5 L644.9 173.1 L645.2 175.0 L645.6 172.0 L646.0 169.0 L646.4 173.3 L646.7 183.8 L647.0 194.3 L647.4 198.6 L647.7 194.6 L648.0 184.2 L648.4 171.4 L648.7 161.0 L649.0 157.0 L649.3 158.7 L649.7 163.2 L650.0 169.5 L650.3 175.8 L650.7 180.3 L651.0 182.0 L651.3 179.8 L651.7 175.2 L652.0 173.0 L652.3 174.1 L652.6 177.1 L653.0 180.9 L653.3 183.9 L653.6 185.0 L653.9 182.8 L654.3 176.8 L654.6 168.5 L654.9 160.2 L655.3 154.2 L655.6 152.0 L655.9 155.3 L656.3 164.3 L656.6 176.7 L656.9 189.1 L657.3 198.1 L657.6 201.4 L657.9 197.2 L658.2 186.1 L658.6 172.3 L658.9 161.2 L659.2 157.0 L659.6 161.5 L660.0 170.5 L660.4 175.0 L660.7 172.2 L661.1 166.8 L661.4 164.0 L661.7 167.3 L662.0 176.0 L662.4 186.6 L662.7 195.3 L663.0 198.6 L663.3 196.1 L663.7 189.2 L664.0 179.8 L664.3 170.4 L664.7 163.5 L665.0 161.0 L665.4 164.2 L665.7 172.0 L666.0 179.8 L666.4 183.0 L666.7 180.9 L667.0 176.0 L667.3 171.1 L667.6 169.0 L668.0 170.8 L668.3 175.0 L668.6 179.2 L669.0 181.0 L669.3 179.0 L669.7 173.5 L670.0 166.0 L670.3 158.5 L670.7 153.0 L671.0 151.0 L671.3 152.8 L671.6 157.9 L672.0 165.5 L672.3 174.5 L672.6 183.5 L673.0 191.1 L673.3 196.2 L673.6 198.0 L673.9 195.5 L674.3 188.5 L674.6 179.0 L674.9 169.5 L675.3 162.5 L675.6 160.0 L675.9 160.5 L676.2 162.1 L676.5 164.5 L676.8 167.6 L677.1 171.0 L677.4 174.4 L677.7 177.5 L678.0 179.9 L678.3 181.5 L678.6 182.0 L678.9 180.8 L679.3 177.5 L679.6 173.0 L679.9 168.5 L680.3 165.2 L680.6 164.0 L680.9 165.1 L681.3 168.1 L681.6 172.6 L682.0 177.4 L682.3 181.9 L682.7 184.9 L683.0 186.0 L683.3 185.1 L683.7 182.8 L684.0 179.5 L684.3 176.2 L684.7 173.9 L685.0 173.0 L685.3 175.0 L685.7 179.0 L686.0 181.0 L686.4 171.5 L686.8 162.0 L687.1 163.9 L687.4 169.2 L687.7 176.3 L688.0 183.4 L688.3 188.7 L688.6 190.6 L688.9 189.0 L689.3 184.4 L689.6 178.3 L689.9 172.2 L690.3 167.6 L690.6 166.0 L690.9 166.5 L691.2 167.8 L691.5 169.9 L691.8 172.6 L692.1 175.5 L692.4 178.4 L692.7 181.1 L693.0 183.2 L693.3 184.5 L693.6 185.0 L693.9 182.5 L694.3 177.5 L694.6 175.0 L694.9 178.6 L695.3 185.8 L695.6 189.4 L696.0 187.7 L696.3 183.4 L696.7 178.0 L697.0 173.7 L697.4 172.0 L697.7 173.1 L698.0 175.8 L698.4 179.2 L698.7 181.9 L699.0 183.0 L699.3 180.8 L699.6 175.1 L700.0 167.9 L700.3 162.2 L700.6 160.0 L701.0 161.6 L701.3 165.5 L701.6 169.4 L702.0 171.0 L702.3 169.5 L702.7 166.5 L703.0 165.0 L703.3 166.4 L703.7 170.2 L704.0 175.7 L704.4 181.9 L704.7 187.4 L705.1 191.2 L705.4 192.6 L705.7 190.7 L706.0 185.8 L706.4 179.8 L706.7 174.9 L707.0 173.0 L707.3 173.4 L707.6 174.5 L707.9 175.6 L708.2 176.0 L708.6 173.2 L709.0 167.8 L709.4 165.0 L709.7 165.3 L710.0 166.0 L710.3 167.3 L710.6 169.0 L710.9 170.9 L711.2 173.2 L711.5 175.5 L711.8 177.8 L712.1 180.1 L712.4 182.0 L712.7 183.7 L713.0 185.0 L713.3 185.7 L713.6 186.0 L714.0 183.7 L714.3 177.7 L714.7 170.3 L715.0 164.3 L715.4 162.0 L715.7 163.0 L716.1 165.8 L716.4 169.5 L716.7 173.2 L717.1 176.0 L717.4 177.0 L717.7 175.8 L718.1 173.2 L718.4 172.0 L718.7 172.5 L719.0 174.0 L719.4 176.1 L719.7 178.7 L720.0 181.3 L720.4 183.4 L720.7 184.9 L721.0 185.4 L721.3 184.3 L721.7 181.4 L722.0 177.1 L722.4 172.3 L722.7 168.0 L723.1 165.1 L723.4 164.0 L723.7 165.3 L724.0 168.8 L724.4 173.2 L724.7 176.7 L725.0 178.0 L725.4 177.0 L725.7 174.5 L726.0 172.0 L726.4 171.0 L726.7 171.3 L727.0 172.2 L727.4 173.6 L727.7 175.3 L728.0 177.2 L728.3 179.1 L728.6 180.8 L729.0 182.2 L729.3 183.1 L729.6 183.4 L729.9 182.3 L730.3 179.4 L730.6 175.4 L730.9 171.4 L731.3 168.5 L731.6 167.4 L732.0 168.5 L732.3 171.2 L732.6 173.9 L733.0 175.0 L733.3 174.2 L733.7 172.8 L734.0 172.0 L734.3 172.7 L734.7 174.7 L735.0 177.3 L735.3 179.9 L735.7 181.9 L736.0 182.6 L736.3 181.8 L736.6 179.7 L736.9 176.7 L737.3 173.3 L737.6 170.3 L737.9 168.2 L738.2 167.4 L738.6 168.5 L738.9 171.5 L739.3 175.3 L739.6 178.3 L740.0 179.4 L740.3 179.0 L740.7 177.8 L741.0 176.2 L741.3 174.6 L741.7 173.4 L742.0 173.0 L742.3 173.6 L742.6 175.1 L743.0 176.9 L743.3 178.4 L743.6 179.0 L743.9 178.2 L744.3 175.9 L744.6 172.8 L744.9 169.7 L745.3 167.4 L745.6 166.6 L745.9 167.2 L746.3 169.0 L746.6 171.6 L747.0 174.4 L747.3 177.0 L747.7 178.8 L748.0 179.4 L748.3 178.6 L748.7 176.4 L749.0 173.4 L749.3 170.4 L749.7 168.2 L750.0 167.4 L750.3 168.9 L750.6 172.9 L751.0 177.9 L751.3 181.9 L751.6 183.4 L751.9 182.7 L752.3 180.8 L752.6 178.2 L752.9 175.6 L753.3 173.7 L753.6 173.0 L753.9 173.9 L754.2 176.1 L754.6 178.9 L754.9 181.1 L755.2 182.0 L755.5 181.5 L755.8 180.2 L756.1 178.2 L756.4 175.8 L756.8 173.2 L757.1 170.8 L757.4 168.8 L757.7 167.5 L758.0 167.0 L758.3 167.7 L758.7 169.8 L759.0 172.8 L759.4 176.2 L759.7 179.2 L760.1 181.3 L760.4 182.0 L760.7 179.0 L761.0 176.0"/><path d="M80.5 325.5 L373.0 325.5 L374.0 324.0 L374.3 324.3 L374.7 325.0 L375.0 326.0 L375.3 327.0 L375.7 327.7 L376.0 328.0 L376.3 327.5 L376.7 326.2 L377.0 324.5 L377.3 322.8 L377.7 321.5 L378.0 321.0 L378.3 323.5 L378.7 328.5 L379.0 331.0 L379.4 328.9 L379.7 323.8 L380.0 318.7 L380.4 316.6 L380.7 321.3 L381.1 330.7 L381.4 335.4 L381.7 330.6 L382.1 320.9 L382.4 316.0 L382.7 317.6 L383.0 321.9 L383.4 327.1 L383.7 331.4 L384.0 333.0 L384.3 330.0 L384.7 324.0 L385.0 321.0 L385.3 321.6 L385.7 323.2 L386.0 325.5 L386.3 327.8 L386.7 329.4 L387.0 330.0 L387.4 328.4 L387.7 324.5 L388.0 320.6 L388.4 319.0 L388.7 320.1 L389.0 323.0 L389.4 326.6 L389.7 329.5 L390.0 330.6 L390.3 329.2 L390.6 325.6 L391.0 321.0 L391.3 317.4 L391.6 316.0 L392.0 327.7 L392.4 339.4 L392.7 336.2 L393.0 328.4 L393.3 320.6 L393.6 317.4 L393.9 318.3 L394.3 320.8 L394.6 324.2 L394.9 327.6 L395.3 330.1 L395.6 331.0 L396.0 329.8 L396.3 327.0 L396.6 324.2 L397.0 323.0 L397.3 323.3 L397.7 324.2 L398.0 325.5 L398.3 326.8 L398.7 327.7 L399.0 328.0 L399.3 326.5 L399.7 323.5 L400.0 322.0 L400.3 322.5 L400.7 324.0 L401.0 326.0 L401.3 328.0 L401.7 329.5 L402.0 330.0 L402.4 328.2 L402.7 323.7 L403.0 319.2 L403.4 317.4 L403.7 321.9 L404.1 330.9 L404.4 335.4 L404.7 333.9 L405.0 329.9 L405.4 324.9 L405.7 320.9 L406.0 319.4 L406.3 320.2 L406.7 322.3 L407.0 325.2 L407.3 328.1 L407.7 330.2 L408.0 331.0 L408.3 328.2 L408.7 322.8 L409.0 320.0 L409.3 320.7 L409.7 322.8 L410.0 325.5 L410.3 328.2 L410.7 330.3 L411.0 331.0 L411.4 329.1 L411.7 324.5 L412.0 319.9 L412.4 318.0 L412.7 319.2 L413.0 322.4 L413.4 326.3 L413.7 329.4 L414.0 330.6 L414.3 329.0 L414.6 324.9 L415.0 319.7 L415.3 315.6 L415.6 314.0 L416.0 323.5 L416.4 333.0 L416.7 332.4 L417.0 330.7 L417.3 328.3 L417.7 325.7 L418.0 323.3 L418.3 321.6 L418.6 321.0 L419.1 328.6 L419.4 327.7 L419.7 325.7 L420.0 323.6 L420.4 322.8 L420.7 324.7 L421.0 329.4 L421.3 334.1 L421.6 336.0 L422.0 326.0 L422.4 316.0 L422.7 318.2 L423.0 323.5 L423.4 328.8 L423.7 331.0 L424.0 329.0 L424.4 324.2 L424.7 319.4 L425.0 317.4 L425.3 325.2 L425.6 333.0 L425.9 332.7 L426.2 331.8 L426.6 330.4 L426.9 328.5 L427.2 326.3 L427.5 324.0 L427.8 321.7 L428.1 319.5 L428.4 317.6 L428.8 316.2 L429.1 315.3 L429.4 315.0 L429.7 320.0 L430.1 330.0 L430.4 335.0 L430.7 334.0 L431.1 331.2 L431.4 327.5 L431.7 323.8 L432.1 321.0 L432.4 320.0 L432.7 321.3 L433.0 324.5 L433.3 327.7 L433.6 329.0 L433.9 328.5 L434.3 327.1 L434.6 325.1 L435.0 322.9 L435.3 320.9 L435.7 319.5 L436.0 319.0 L436.3 322.5 L436.7 329.5 L437.0 333.0 L437.3 332.3 L437.7 330.2 L438.0 327.2 L438.4 323.8 L438.7 320.8 L439.1 318.7 L439.4 318.0 L439.7 319.3 L440.0 322.8 L440.4 327.2 L440.7 330.7 L441.0 332.0 L441.4 330.2 L441.7 326.0 L442.0 321.8 L442.4 320.0 L442.7 321.3 L443.0 324.8 L443.4 329.2 L443.7 332.7 L444.0 334.0 L444.4 330.8 L444.7 323.2 L445.0 315.6 L445.4 312.4 L445.7 318.6 L446.1 331.1 L446.4 337.4 L446.7 336.6 L447.0 334.5 L447.4 331.2 L447.7 327.4 L448.0 323.6 L448.4 320.3 L448.7 318.2 L449.0 317.4 L449.3 320.8 L449.7 327.6 L450.0 331.0 L450.3 330.6 L450.7 329.3 L451.0 327.5 L451.4 325.5 L451.7 323.7 L452.1 322.4 L452.4 322.0 L452.7 322.6 L453.0 324.3 L453.4 326.3 L453.7 328.0 L454.0 328.6 L454.3 328.4 L454.6 327.8 L454.9 326.9 L455.2 325.7 L455.5 324.3 L455.9 322.9 L456.2 321.5 L456.5 320.3 L456.8 319.4 L457.1 318.8 L457.4 318.6 L457.7 324.0 L458.0 329.4 L458.3 328.8 L458.7 327.1 L459.0 324.7 L459.4 322.1 L459.7 319.7 L460.1 318.0 L460.4 317.4 L460.7 318.3 L461.1 320.8 L461.4 324.2 L461.7 327.6 L462.1 330.1 L462.4 331.0 L462.7 330.5 L463.0 329.1 L463.4 327.0 L463.7 324.5 L464.0 322.0 L464.4 319.9 L464.7 318.5 L465.0 318.0 L465.3 325.0 L465.6 332.0 L466.0 330.4 L466.3 326.5 L466.6 322.5 L467.0 320.9 L467.4 323.0 L467.7 328.2 L468.0 333.3 L468.4 335.4 L468.7 333.7 L469.0 329.2 L469.4 323.6 L469.7 319.1 L470.0 317.4 L470.4 324.2 L470.7 331.0 L471.0 322.0 L471.4 313.0 L471.7 316.4 L472.0 324.5 L472.3 332.6 L472.6 336.0 L473.0 334.2 L473.3 329.4 L473.7 323.6 L474.0 318.8 L474.4 317.0 L474.7 317.5 L475.0 318.8 L475.4 320.8 L475.7 323.4 L476.0 326.2 L476.3 329.0 L476.6 331.6 L477.0 333.6 L477.3 334.9 L477.6 335.4 L477.9 334.3 L478.3 331.3 L478.6 327.2 L478.9 323.1 L479.3 320.1 L479.6 319.0 L479.9 319.9 L480.3 322.2 L480.6 325.5 L480.9 328.8 L481.3 331.1 L481.6 332.0 L482.0 330.2 L482.3 326.0 L482.6 321.8 L483.0 320.0 L483.3 320.7 L483.7 322.5 L484.0 325.0 L484.3 327.5 L484.7 329.3 L485.0 330.0 L485.3 328.5 L485.6 324.5 L486.0 319.5 L486.3 315.5 L486.6 314.0 L487.0 316.5 L487.3 323.2 L487.7 331.4 L488.0 338.1 L488.4 340.6 L488.7 338.4 L489.0 332.6 L489.4 325.4 L489.7 319.6 L490.0 317.4 L490.4 320.8 L490.8 327.6 L491.2 331.0 L491.6 327.2 L492.0 319.7 L492.4 316.0 L492.7 319.4 L493.0 327.5 L493.3 335.6 L493.6 339.0 L493.9 337.6 L494.3 333.7 L494.6 328.0 L495.0 321.6 L495.3 315.9 L495.7 312.0 L496.0 310.6 L496.3 312.2 L496.7 316.4 L497.0 322.3 L497.3 328.1 L497.7 332.4 L498.0 334.0 L498.3 329.2 L498.7 319.8 L499.0 315.0 L499.3 315.3 L499.7 316.0 L500.0 317.0 L500.3 318.0 L500.7 318.7 L501.0 319.0 L501.4 321.6 L501.7 327.8 L502.0 334.0 L502.4 336.6 L502.7 335.2 L503.1 331.2 L503.4 325.8 L503.7 320.4 L504.1 316.4 L504.4 315.0 L504.7 316.2 L505.0 319.5 L505.3 324.3 L505.7 329.7 L506.0 334.5 L506.3 337.8 L506.6 339.0 L506.9 337.3 L507.3 332.6 L507.6 325.8 L508.0 318.2 L508.3 311.4 L508.7 306.7 L509.0 305.0 L509.3 309.7 L509.6 321.9 L510.0 337.1 L510.3 349.3 L510.6 354.0 L511.0 345.1 L511.3 323.5 L511.6 301.9 L512.0 293.0 L512.3 301.6 L512.6 322.5 L512.9 343.4 L513.2 352.0 L513.6 334.5 L514.0 299.5 L514.4 282.0 L514.7 294.1 L515.0 323.2 L515.3 352.3 L515.6 364.4 L516.0 353.5 L516.3 327.2 L516.6 300.9 L517.0 290.0 L517.3 299.8 L517.6 323.5 L517.9 347.2 L518.2 357.0 L518.6 337.5 L519.0 298.5 L519.4 279.0 L519.8 291.1 L520.1 320.2 L520.4 349.3 L520.8 361.4 L521.1 354.4 L521.4 336.0 L521.8 313.4 L522.1 295.0 L522.4 288.0 L522.7 299.6 L523.0 327.7 L523.3 355.8 L523.6 367.4 L524.0 360.0 L524.3 340.7 L524.7 316.7 L525.0 297.4 L525.4 290.0 L525.7 298.1 L526.0 317.5 L526.3 336.9 L526.6 345.0 L527.0 341.8 L527.3 334.0 L527.6 326.2 L528.0 323.0 L528.4 326.1 L528.7 333.5 L529.0 340.9 L529.4 344.0 L529.7 336.1 L530.0 317.0 L530.3 297.9 L530.6 290.0 L531.0 297.8 L531.3 316.5 L531.6 335.2 L532.0 343.0 L532.3 340.2 L532.7 332.3 L533.0 320.8 L533.4 308.2 L533.7 296.7 L534.1 288.8 L534.4 286.0 L534.7 289.2 L535.0 298.2 L535.3 311.1 L535.7 325.5 L536.0 338.4 L536.3 347.4 L536.6 350.6 L537.0 344.9 L537.3 330.0 L537.7 311.6 L538.0 296.7 L538.4 291.0 L538.7 293.9 L539.1 302.0 L539.4 313.0 L539.7 324.0 L540.1 332.1 L540.4 335.0 L540.7 333.4 L541.1 329.0 L541.4 323.0 L541.7 317.0 L542.1 312.6 L542.4 311.0 L542.7 316.3 L543.0 329.0 L543.3 341.7 L543.6 347.0 L544.0 340.3 L544.3 324.0 L544.6 307.7 L545.0 301.0 L545.4 305.7 L545.7 317.0 L546.0 328.3 L546.4 333.0 L546.7 327.3 L547.0 313.5 L547.3 299.7 L547.6 294.0 L548.0 298.8 L548.3 311.3 L548.7 326.7 L549.0 339.2 L549.4 344.0 L549.7 341.8 L550.1 337.2 L550.4 335.0 L550.7 338.8 L551.0 348.0 L551.3 357.2 L551.6 361.0 L552.0 348.7 L552.3 319.0 L552.6 289.3 L553.0 277.0 L553.4 289.2 L553.7 318.5 L554.0 347.8 L554.4 360.0 L554.7 357.1 L555.0 349.6 L555.4 340.4 L555.7 332.9 L556.0 330.0 L556.3 325.9 L556.6 315.1 L557.0 301.9 L557.3 291.1 L557.6 287.0 L558.0 300.5 L558.3 333.2 L558.6 365.9 L559.0 379.4 L559.3 375.3 L559.7 364.1 L560.0 348.7 L560.3 333.4 L560.7 322.1 L561.0 318.0 L561.3 318.7 L561.6 320.4 L561.9 322.6 L562.2 324.3 L562.5 325.0 L562.8 322.7 L563.1 316.7 L563.4 309.3 L563.7 303.3 L564.0 301.0 L564.3 304.4 L564.7 313.8 L565.0 326.5 L565.3 339.2 L565.7 348.6 L566.0 352.0 L566.4 345.3 L566.7 329.0 L567.0 312.7 L567.4 306.0 L567.7 307.3 L568.0 311.2 L568.3 317.3 L568.6 324.9 L568.9 333.3 L569.2 341.7 L569.5 349.3 L569.8 355.4 L570.1 359.3 L570.4 360.6 L570.7 359.1 L571.0 354.8 L571.4 348.1 L571.7 339.7 L572.0 330.3 L572.3 320.9 L572.6 312.5 L573.0 305.8 L573.3 301.5 L573.6 300.0 L574.0 307.5 L574.3 325.5 L574.6 343.5 L575.0 351.0 L575.3 348.9 L575.6 342.8 L576.0 333.7 L576.3 323.0 L576.6 312.3 L577.0 303.2 L577.3 297.1 L577.6 295.0 L577.9 296.8 L578.2 302.2 L578.5 310.5 L578.8 320.9 L579.1 332.5 L579.4 344.1 L579.7 354.5 L580.0 362.8 L580.3 368.2 L580.6 370.0 L581.0 363.7 L581.3 347.2 L581.7 326.8 L582.0 310.3 L582.4 304.0 L582.7 306.4 L583.1 313.0 L583.4 322.0 L583.7 331.0 L584.1 337.6 L584.4 340.0 L584.7 338.4 L585.0 334.0 L585.3 327.6 L585.7 320.4 L586.0 314.0 L586.3 309.6 L586.6 308.0 L586.9 308.6 L587.2 310.4 L587.5 313.3 L587.9 317.0 L588.2 321.3 L588.5 326.0 L588.8 330.7 L589.1 335.0 L589.5 338.7 L589.8 341.6 L590.1 343.4 L590.4 344.0 L590.7 340.7 L591.0 331.9 L591.4 321.1 L591.7 312.3 L592.0 309.0 L592.3 311.6 L592.6 318.3 L593.0 326.7 L593.3 333.4 L593.6 336.0 L593.9 334.6 L594.3 330.8 L594.6 325.5 L594.9 320.2 L595.3 316.4 L595.6 315.0 L596.0 316.9 L596.3 321.5 L596.6 326.1 L597.0 328.0 L597.4 325.2 L597.7 318.5 L598.0 311.8 L598.4 309.0 L598.7 309.6 L599.0 311.4 L599.3 314.3 L599.6 318.1 L599.9 322.7 L600.2 327.8 L600.5 333.2 L600.8 338.6 L601.1 343.7 L601.4 348.3 L601.7 352.1 L602.0 355.0 L602.3 356.8 L602.6 357.4 L603.0 352.3 L603.3 339.0 L603.7 322.4 L604.0 309.1 L604.4 304.0 L604.7 306.8 L605.0 314.0 L605.4 323.0 L605.7 330.2 L606.0 333.0 L606.3 331.8 L606.7 328.3 L607.0 323.3 L607.4 317.7 L607.7 312.7 L608.1 309.2 L608.4 308.0 L608.7 310.4 L609.0 317.1 L609.3 326.9 L609.7 337.7 L610.0 347.5 L610.3 354.2 L610.6 356.6 L611.0 351.6 L611.3 338.4 L611.7 322.2 L612.0 309.0 L612.4 304.0 L612.7 305.4 L613.0 309.6 L613.3 316.0 L613.6 323.8 L614.0 332.2 L614.3 340.0 L614.6 346.4 L614.9 350.6 L615.2 352.0 L615.6 348.3 L615.9 338.5 L616.3 326.5 L616.6 316.7 L617.0 313.0 L617.3 314.3 L617.6 317.5 L618.0 320.7 L618.3 322.0 L618.6 320.7 L619.0 317.5 L619.3 314.3 L619.6 313.0 L619.9 313.5 L620.2 315.1 L620.5 317.5 L620.8 320.8 L621.1 324.6 L621.4 328.8 L621.8 333.2 L622.1 337.4 L622.4 341.2 L622.7 344.5 L623.0 346.9 L623.3 348.5 L623.6 349.0 L624.0 344.3 L624.3 332.1 L624.7 316.9 L625.0 304.7 L625.4 300.0 L625.7 301.4 L626.0 305.4 L626.4 311.3 L626.7 318.3 L627.0 325.3 L627.4 331.2 L627.7 335.2 L628.0 336.6 L628.3 335.2 L628.6 331.6 L629.0 327.0 L629.3 323.4 L629.6 322.0 L630.0 323.3 L630.3 326.5 L630.6 329.7 L631.0 331.0 L631.3 330.1 L631.6 327.9 L632.0 325.1 L632.3 322.9 L632.6 322.0 L633.0 323.8 L633.3 328.3 L633.6 332.8 L634.0 334.6 L634.3 333.3 L634.7 329.7 L635.0 324.8 L635.3 319.9 L635.7 316.3 L636.0 315.0 L636.3 315.8 L636.6 317.8 L637.0 320.2 L637.3 322.2 L637.6 323.0 L638.0 322.2 L638.3 320.2 L638.6 318.2 L639.0 317.4 L639.4 320.9 L639.7 329.4 L640.0 337.9 L640.4 341.4 L640.7 340.2 L641.1 336.9 L641.4 332.1 L641.8 326.8 L642.1 322.0 L642.5 318.7 L642.8 317.5 L643.1 318.9 L643.4 322.5 L643.8 327.0 L644.1 330.6 L644.4 332.0 L644.7 331.1 L645.0 328.5 L645.3 324.8 L645.6 320.6 L645.9 316.9 L646.2 314.3 L646.5 313.4 L646.8 314.7 L647.1 318.3 L647.5 323.2 L647.8 328.1 L648.1 331.7 L648.4 333.0 L648.7 331.6 L649.0 327.8 L649.3 322.2 L649.7 316.1 L650.0 310.5 L650.3 306.7 L650.6 305.3 L650.9 310.5 L651.2 323.1 L651.6 335.8 L651.9 341.0 L652.2 338.4 L652.5 331.7 L652.9 323.5 L653.2 316.8 L653.5 314.2 L653.8 315.4 L654.2 318.6 L654.5 323.4 L654.8 328.6 L655.1 333.4 L655.5 336.6 L655.8 337.8 L656.1 337.1 L656.4 334.9 L656.8 331.8 L657.1 328.1 L657.4 324.3 L657.8 321.2 L658.1 319.0 L658.4 318.3 L658.8 322.8 L659.1 331.7 L659.5 336.2 L659.8 335.0 L660.1 332.0 L660.5 328.2 L660.8 325.2 L661.1 324.0 L661.5 325.0 L661.9 327.0 L662.3 328.0 L662.6 325.8 L662.9 320.2 L663.3 313.1 L663.6 307.5 L663.9 305.3 L664.2 306.8 L664.5 311.1 L664.9 317.6 L665.2 325.2 L665.5 332.8 L665.9 339.3 L666.2 343.6 L666.5 345.1 L666.8 343.9 L667.2 340.4 L667.5 335.3 L667.9 329.8 L668.2 324.7 L668.6 321.2 L668.9 320.0 L669.2 320.8 L669.6 322.8 L669.9 325.6 L670.2 328.5 L670.6 330.5 L670.9 331.3 L671.2 330.5 L671.6 328.2 L671.9 325.0 L672.3 321.3 L672.6 318.1 L673.0 315.8 L673.3 315.0 L673.6 316.0 L673.9 318.7 L674.2 322.6 L674.5 327.0 L674.8 330.9 L675.1 333.6 L675.4 334.6 L675.7 334.2 L676.1 332.9 L676.4 331.1 L676.7 329.1 L677.0 327.3 L677.4 326.0 L677.7 325.6 L678.1 324.1 L678.4 320.3 L678.8 315.5 L679.1 311.7 L679.5 310.2 L679.8 310.8 L680.1 312.4 L680.4 314.9 L680.7 318.1 L681.0 321.6 L681.4 325.1 L681.7 328.3 L682.0 330.8 L682.3 332.4 L682.6 333.0 L682.9 332.7 L683.2 331.8 L683.5 330.3 L683.8 328.5 L684.1 326.4 L684.5 324.1 L684.8 322.0 L685.1 320.2 L685.4 318.7 L685.7 317.8 L686.0 317.5 L686.4 319.5 L686.7 324.4 L687.0 329.3 L687.4 331.3 L687.8 329.3 L688.1 324.4 L688.4 319.5 L688.8 317.5 L689.1 319.8 L689.4 325.4 L689.7 331.1 L690.0 333.4 L690.3 332.8 L690.6 331.0 L690.9 328.2 L691.2 325.1 L691.6 321.9 L691.9 319.1 L692.2 317.3 L692.5 316.7 L692.8 317.1 L693.1 318.1 L693.4 319.8 L693.7 321.7 L694.0 323.9 L694.3 325.8 L694.6 327.5 L694.9 328.5 L695.2 328.9 L695.5 328.5 L695.8 327.2 L696.1 325.4 L696.5 323.2 L696.8 321.0 L697.1 319.2 L697.4 317.9 L697.7 317.5 L698.0 317.9 L698.3 319.0 L698.7 320.8 L699.0 323.1 L699.3 325.6 L699.6 328.1 L699.9 330.4 L700.3 332.2 L700.6 333.3 L700.9 333.7 L701.2 333.1 L701.5 331.4 L701.8 328.8 L702.1 325.6 L702.5 322.3 L702.8 319.1 L703.1 316.5 L703.4 314.8 L703.7 314.2 L704.0 314.7 L704.4 316.0 L704.7 318.1 L705.0 320.7 L705.4 323.6 L705.7 326.5 L706.0 329.1 L706.3 331.2 L706.7 332.5 L707.0 333.0 L707.3 332.7 L707.6 331.8 L708.0 330.3 L708.3 328.5 L708.6 326.5 L708.9 324.5 L709.2 322.7 L709.6 321.2 L709.9 320.3 L710.2 320.0 L710.5 320.4 L710.8 321.6 L711.2 323.3 L711.5 325.5 L711.8 327.9 L712.1 330.0 L712.5 331.8 L712.8 333.0 L713.1 333.4 L713.4 332.6 L713.7 330.5 L714.0 327.2 L714.4 323.4 L714.7 319.6 L715.0 316.3 L715.3 314.2 L715.6 313.4 L715.9 313.7 L716.2 314.7 L716.5 316.3 L716.8 318.3 L717.1 320.8 L717.4 323.4 L717.8 326.2 L718.1 328.8 L718.4 331.3 L718.7 333.3 L719.0 334.9 L719.3 335.9 L719.6 336.2 L719.9 335.5 L720.3 333.6 L720.6 330.8 L721.0 327.8 L721.3 325.0 L721.7 323.1 L722.0 322.4 L722.3 322.3 L722.6 322.0 L722.9 321.7 L723.2 321.2 L723.6 320.7 L723.9 320.4 L724.2 320.1 L724.5 320.0 L724.9 321.4 L725.2 324.2 L725.6 325.6 L725.9 322.4 L726.3 315.9 L726.6 312.6 L726.9 314.1 L727.3 318.3 L727.6 324.0 L727.9 329.7 L728.3 333.9 L728.6 335.4 L728.9 335.1 L729.2 334.4 L729.5 333.1 L729.8 331.6 L730.1 329.7 L730.5 327.7 L730.8 325.7 L731.1 323.9 L731.4 322.3 L731.7 321.0 L732.0 320.3 L732.3 320.0 L732.6 320.3 L732.9 321.3 L733.2 322.7 L733.5 324.4 L733.8 326.2 L734.1 327.6 L734.4 328.6 L734.7 328.9 L735.0 328.7 L735.4 328.2 L735.7 327.4 L736.0 326.3 L736.3 325.1 L736.7 323.8 L737.0 322.6 L737.3 321.5 L737.6 320.7 L738.0 320.2 L738.3 320.0 L738.6 320.5 L738.9 321.8 L739.2 323.8 L739.5 326.2 L739.9 328.8 L740.2 331.2 L740.5 333.2 L740.8 334.5 L741.1 335.0 L741.4 334.1 L741.8 331.5 L742.1 327.6 L742.4 323.0 L742.7 318.4 L743.1 314.5 L743.4 311.9 L743.7 311.0 L744.0 312.0 L744.3 314.8 L744.7 318.7 L745.0 322.5 L745.3 325.4 L745.6 326.4 L745.9 325.9 L746.2 324.6 L746.6 323.2 L746.9 322.7 L747.2 323.4 L747.6 325.4 L747.9 328.2 L748.2 330.9 L748.6 333.0 L748.9 333.7 L749.2 333.3 L749.5 332.2 L749.9 330.5 L750.2 328.4 L750.5 326.0 L750.8 323.6 L751.1 321.5 L751.5 319.8 L751.8 318.7 L752.1 318.3 L752.4 318.6 L752.8 319.3 L753.1 320.5 L753.4 322.0 L753.8 323.6 L754.1 325.2 L754.4 326.7 L754.7 327.9 L755.1 328.6 L755.4 328.9 L755.7 328.4 L756.0 327.1 L756.3 325.1 L756.6 322.9 L756.9 320.9 L757.2 319.6 L757.5 319.1 L757.8 320.2 L758.1 322.9 L758.5 326.4 L758.8 329.1 L759.1 330.2 L759.4 329.8 L759.7 328.6 L760.0 327.2 L760.3 326.0 L760.6 325.6"/><path d="M80.5 475.5 L377.0 475.5 L378.0 468.0 L378.3 471.6 L378.7 478.9 L379.0 482.6 L379.4 480.2 L379.7 474.3 L380.0 468.4 L380.4 466.0 L380.7 468.5 L381.0 474.7 L381.3 480.9 L381.6 483.4 L382.0 481.6 L382.3 477.2 L382.6 472.8 L383.0 471.0 L383.3 472.9 L383.7 476.7 L384.0 478.6 L384.3 477.7 L384.6 475.3 L385.0 472.3 L385.3 469.9 L385.6 469.0 L386.0 471.1 L386.3 476.0 L386.6 480.9 L387.0 483.0 L387.4 480.9 L387.7 475.8 L388.0 470.7 L388.4 468.6 L388.7 470.0 L389.0 473.6 L389.4 478.0 L389.7 481.6 L390.0 483.0 L390.3 481.5 L390.6 477.5 L391.0 472.5 L391.3 468.5 L391.6 467.0 L392.0 469.5 L392.3 475.5 L392.6 481.5 L393.0 484.0 L393.4 481.1 L393.7 474.0 L394.0 466.9 L394.4 464.0 L394.7 466.9 L395.0 474.0 L395.3 481.1 L395.6 484.0 L395.9 479.9 L396.3 471.6 L396.6 467.4 L396.9 468.0 L397.3 469.8 L397.6 472.3 L398.0 475.1 L398.3 477.6 L398.7 479.4 L399.0 480.0 L399.4 478.3 L399.7 474.3 L400.0 470.3 L400.4 468.6 L400.7 469.1 L401.0 470.4 L401.4 472.4 L401.7 474.8 L402.0 477.2 L402.4 479.2 L402.7 480.5 L403.0 481.0 L403.3 479.9 L403.7 477.0 L404.0 473.0 L404.3 469.0 L404.7 466.1 L405.0 465.0 L405.3 470.4 L405.7 481.2 L406.0 486.6 L406.3 485.5 L406.7 482.5 L407.0 478.3 L407.3 474.2 L407.7 471.1 L408.0 470.0 L408.3 470.7 L408.7 472.8 L409.0 475.5 L409.3 478.2 L409.7 480.3 L410.0 481.0 L410.3 480.6 L410.6 479.6 L410.9 477.9 L411.2 475.8 L411.5 473.5 L411.8 471.2 L412.1 469.1 L412.4 467.4 L412.7 466.4 L413.0 466.0 L413.4 468.2 L413.7 473.5 L414.0 478.8 L414.4 481.0 L414.7 480.2 L415.1 478.0 L415.4 475.0 L415.7 472.0 L416.1 469.8 L416.4 469.0 L416.7 470.2 L417.0 473.5 L417.4 477.5 L417.7 480.8 L418.0 482.0 L418.4 480.0 L418.7 475.3 L419.0 470.6 L419.4 468.6 L419.7 469.2 L420.0 470.9 L420.3 473.4 L420.7 476.2 L421.0 478.7 L421.3 480.4 L421.6 481.0 L421.9 480.4 L422.3 478.8 L422.6 476.5 L422.9 474.2 L423.3 472.6 L423.6 472.0 L423.9 472.4 L424.2 473.5 L424.5 475.1 L424.8 477.2 L425.2 479.4 L425.5 481.4 L425.8 483.1 L426.1 484.2 L426.4 484.6 L426.7 476.6 L427.0 468.6 L427.4 471.5 L427.8 477.4 L428.2 480.3 L428.6 476.2 L429.0 468.1 L429.4 464.0 L429.7 469.0 L430.1 479.0 L430.4 484.0 L430.7 483.0 L431.1 480.2 L431.4 476.5 L431.7 472.8 L432.1 470.0 L432.4 469.0 L432.7 470.5 L433.0 474.5 L433.4 479.5 L433.7 483.5 L434.0 485.0 L434.3 480.4 L434.7 471.2 L435.0 466.6 L435.3 467.4 L435.7 469.7 L436.0 472.8 L436.3 475.9 L436.7 478.2 L437.0 479.0 L437.3 478.1 L437.6 475.9 L438.0 473.1 L438.3 470.9 L438.6 470.0 L438.9 473.8 L439.3 481.2 L439.6 485.0 L440.0 483.0 L440.3 477.7 L440.7 471.3 L441.0 466.0 L441.4 464.0 L441.7 464.9 L442.0 467.4 L442.3 471.0 L442.7 475.0 L443.0 478.6 L443.3 481.1 L443.6 482.0 L444.0 480.0 L444.3 475.3 L444.6 470.6 L445.0 468.6 L445.4 470.7 L445.7 475.8 L446.0 480.9 L446.4 483.0 L446.7 481.9 L447.0 478.9 L447.4 475.1 L447.7 472.1 L448.0 471.0 L448.3 471.6 L448.7 473.4 L449.0 475.8 L449.3 478.2 L449.7 480.0 L450.0 480.6 L450.3 480.1 L450.7 478.7 L451.0 476.8 L451.3 474.9 L451.7 473.5 L452.0 473.0 L452.3 473.5 L452.7 474.8 L453.0 476.5 L453.3 478.2 L453.7 479.5 L454.0 480.0 L454.3 477.2 L454.7 471.5 L455.0 468.6 L455.3 469.7 L455.6 472.6 L455.9 476.3 L456.2 479.2 L456.5 480.3 L456.8 478.9 L457.1 475.4 L457.4 470.9 L457.7 467.4 L458.0 466.0 L458.3 477.3 L458.6 488.6 L458.9 488.1 L459.2 486.7 L459.5 484.5 L459.8 481.7 L460.1 478.6 L460.4 475.5 L460.7 472.7 L461.0 470.5 L461.3 469.1 L461.6 468.6 L462.0 470.5 L462.3 475.5 L462.7 481.7 L463.0 486.7 L463.4 488.6 L463.7 487.0 L464.0 482.9 L464.4 477.7 L464.7 473.6 L465.0 472.0 L465.3 472.6 L465.7 474.2 L466.0 476.5 L466.3 478.8 L466.7 480.4 L467.0 481.0 L467.4 478.7 L467.7 473.0 L468.0 467.3 L468.4 465.0 L468.7 465.9 L469.1 468.5 L469.4 472.0 L469.7 475.5 L470.1 478.1 L470.4 479.0 L470.7 478.1 L471.0 475.9 L471.4 473.1 L471.7 470.9 L472.0 470.0 L472.3 470.7 L472.7 472.6 L473.0 475.4 L473.4 478.6 L473.7 481.4 L474.1 483.3 L474.4 484.0 L474.7 482.8 L475.0 479.5 L475.4 475.5 L475.7 472.2 L476.0 471.0 L476.3 471.7 L476.7 473.8 L477.0 476.5 L477.3 479.2 L477.7 481.3 L478.0 482.0 L478.3 479.8 L478.7 475.2 L479.0 473.0 L479.3 473.6 L479.7 475.2 L480.0 477.5 L480.3 479.8 L480.7 481.4 L481.0 482.0 L481.3 477.2 L481.7 467.8 L482.0 463.0 L482.3 464.0 L482.6 467.0 L483.0 471.3 L483.3 476.5 L483.6 481.7 L484.0 486.0 L484.3 489.0 L484.6 490.0 L485.1 468.0 L485.4 469.2 L485.8 472.4 L486.1 476.3 L486.4 479.4 L486.8 480.6 L487.1 479.4 L487.4 476.1 L487.7 472.0 L488.1 468.7 L488.4 467.4 L488.7 468.6 L489.0 471.9 L489.3 476.7 L489.7 482.1 L490.0 486.9 L490.3 490.2 L490.6 491.4 L490.9 489.6 L491.3 484.7 L491.6 478.0 L491.9 471.3 L492.3 466.4 L492.6 464.6 L493.0 466.4 L493.3 471.0 L493.7 476.6 L494.0 481.2 L494.4 483.0 L494.7 479.8 L495.1 473.2 L495.4 470.0 L495.7 471.2 L496.1 474.3 L496.4 478.7 L496.7 483.0 L497.1 486.2 L497.4 487.4 L497.7 485.4 L498.0 480.2 L498.4 473.8 L498.7 468.6 L499.0 466.6 L499.3 466.6 L499.7 466.7 L500.0 466.8 L500.3 466.9 L500.7 467.0 L501.0 467.0 L501.3 476.0 L501.6 485.0 L501.9 484.3 L502.3 482.2 L502.6 479.2 L503.0 475.8 L503.3 472.8 L503.7 470.7 L504.0 470.0 L504.3 470.6 L504.7 472.2 L505.0 474.5 L505.3 476.8 L505.7 478.4 L506.0 479.0 L506.3 478.6 L506.6 477.5 L506.9 475.7 L507.2 473.4 L507.5 470.9 L507.9 468.1 L508.2 465.6 L508.5 463.3 L508.8 461.5 L509.1 460.4 L509.4 460.0 L509.7 464.0 L510.0 474.3 L510.4 487.1 L510.7 497.4 L511.0 501.4 L511.4 494.6 L511.7 478.2 L512.0 461.8 L512.4 455.0 L512.7 460.0 L513.0 472.0 L513.3 484.0 L513.6 489.0 L514.0 476.0 L514.4 463.0 L514.7 468.3 L515.0 481.0 L515.3 493.7 L515.6 499.0 L516.0 493.0 L516.3 478.5 L516.6 464.0 L517.0 458.0 L517.3 474.5 L517.6 491.0 L518.0 455.5 L518.5 420.0 L518.9 448.6 L519.2 505.9 L519.6 534.5 L520.0 515.4 L520.4 477.1 L520.8 458.0 L521.2 477.5 L521.6 497.0 L521.9 484.2 L522.3 458.8 L522.6 446.0 L522.9 460.3 L523.3 489.0 L523.6 503.4 L524.0 495.1 L524.3 475.2 L524.6 455.3 L525.0 447.0 L525.4 451.7 L525.7 463.0 L526.0 474.3 L526.4 479.0 L526.7 477.2 L527.1 473.8 L527.4 472.0 L527.7 478.6 L528.1 491.9 L528.4 498.6 L528.7 495.7 L529.1 487.7 L529.4 476.8 L529.7 465.9 L530.1 457.9 L530.4 455.0 L530.7 457.5 L531.0 464.0 L531.4 472.0 L531.7 478.5 L532.0 481.0 L532.4 477.5 L532.7 474.0 L533.0 484.0 L533.4 494.0 L533.7 486.2 L534.0 467.5 L534.3 448.8 L534.6 441.0 L535.0 446.0 L535.3 459.0 L535.7 475.0 L536.0 488.0 L536.4 493.0 L536.7 492.0 L537.0 489.0 L537.3 484.3 L537.6 478.5 L537.9 472.0 L538.2 465.5 L538.5 459.7 L538.8 455.0 L539.1 452.0 L539.4 451.0 L539.7 453.9 L540.1 461.9 L540.4 472.8 L540.7 483.7 L541.1 491.7 L541.4 494.6 L541.7 493.0 L542.0 488.5 L542.3 481.9 L542.7 474.7 L543.0 468.1 L543.3 463.6 L543.6 462.0 L544.0 464.8 L544.3 471.5 L544.6 478.2 L545.0 481.0 L545.4 477.6 L545.7 469.5 L546.0 461.4 L546.4 458.0 L546.7 461.2 L547.0 469.4 L547.4 479.6 L547.7 487.8 L548.0 491.0 L548.3 489.3 L548.7 484.8 L549.0 478.5 L549.3 472.2 L549.7 467.7 L550.0 466.0 L550.3 467.8 L550.6 472.6 L551.0 478.4 L551.3 483.2 L551.6 485.0 L552.0 480.2 L552.3 468.5 L552.6 456.8 L553.0 452.0 L553.3 453.0 L553.6 455.8 L553.9 460.3 L554.2 466.1 L554.5 473.0 L554.8 480.3 L555.1 487.6 L555.4 494.4 L555.7 500.3 L556.0 504.8 L556.3 507.6 L556.6 508.6 L556.9 506.6 L557.3 501.2 L557.6 493.8 L557.9 486.4 L558.3 481.0 L558.6 479.0 L558.9 478.1 L559.2 475.6 L559.5 471.8 L559.8 467.0 L560.2 462.0 L560.5 457.2 L560.8 453.4 L561.1 450.9 L561.4 450.0 L561.7 452.7 L562.1 460.2 L562.4 470.5 L562.7 480.8 L563.1 488.3 L563.4 491.0 L563.7 487.3 L564.0 477.5 L564.4 465.5 L564.7 455.7 L565.0 452.0 L565.4 459.8 L565.7 478.7 L566.0 497.6 L566.4 505.4 L566.7 500.5 L567.0 487.6 L567.4 471.8 L567.7 458.9 L568.0 454.0 L568.3 460.8 L568.7 474.2 L569.0 481.0 L569.3 475.0 L569.7 463.0 L570.0 457.0 L570.3 458.8 L570.7 463.8 L571.0 471.0 L571.4 479.0 L571.7 486.2 L572.1 491.2 L572.4 493.0 L572.7 491.7 L573.0 487.9 L573.4 482.2 L573.7 475.5 L574.0 468.8 L574.4 463.1 L574.7 459.3 L575.0 458.0 L575.3 460.4 L575.7 466.8 L576.0 475.7 L576.3 484.5 L576.7 491.0 L577.0 493.4 L577.3 491.9 L577.6 487.5 L578.0 480.9 L578.3 473.2 L578.6 465.5 L579.0 458.9 L579.3 454.5 L579.6 453.0 L580.0 456.2 L580.3 464.0 L580.6 471.8 L581.0 475.0 L581.3 468.0 L581.6 461.0 L582.0 463.3 L582.3 469.0 L582.6 474.7 L583.0 477.0 L583.3 475.5 L583.7 472.5 L584.0 471.0 L584.3 472.3 L584.7 475.8 L585.0 480.5 L585.3 485.2 L585.7 488.7 L586.0 490.0 L586.4 486.3 L586.7 477.5 L587.0 468.7 L587.4 465.0 L587.7 468.1 L588.0 475.5 L588.3 482.9 L588.6 486.0 L588.9 477.8 L589.3 461.2 L589.6 453.0 L589.9 453.8 L590.2 456.1 L590.5 459.8 L590.9 464.6 L591.2 470.2 L591.5 476.2 L591.8 482.2 L592.1 487.8 L592.5 492.6 L592.8 496.3 L593.1 498.6 L593.4 499.4 L593.7 497.2 L594.0 491.0 L594.3 482.1 L594.7 472.3 L595.0 463.4 L595.3 457.2 L595.6 455.0 L595.9 457.1 L596.3 462.9 L596.6 471.3 L597.0 480.7 L597.3 489.1 L597.7 494.9 L598.0 497.0 L598.4 492.3 L598.7 481.0 L599.0 469.7 L599.4 465.0 L599.7 467.3 L600.0 473.3 L600.4 480.7 L600.7 486.7 L601.0 489.0 L601.3 481.8 L601.7 467.2 L602.0 460.0 L602.3 461.2 L602.6 464.0 L602.9 466.8 L603.2 468.0 L603.6 465.8 L604.0 461.2 L604.4 459.0 L604.7 461.1 L605.0 466.8 L605.3 475.2 L605.7 484.4 L606.0 492.8 L606.3 498.5 L606.6 500.6 L607.0 496.6 L607.3 486.8 L607.6 477.0 L608.0 473.0 L608.3 471.3 L608.6 466.8 L609.0 461.2 L609.3 456.7 L609.6 455.0 L610.0 456.8 L610.4 460.2 L610.8 462.0 L611.1 460.8 L611.4 458.0 L611.7 455.2 L612.0 454.0 L612.3 459.6 L612.6 474.2 L613.0 492.4 L613.3 507.0 L613.6 512.6 L613.9 509.3 L614.3 500.2 L614.6 487.8 L614.9 475.4 L615.3 466.3 L615.6 463.0 L615.9 466.0 L616.3 472.0 L616.6 475.0 L616.9 474.7 L617.2 473.9 L617.5 472.5 L617.8 470.9 L618.1 469.0 L618.4 467.1 L618.7 465.5 L619.0 464.1 L619.3 463.3 L619.6 463.0 L619.9 463.4 L620.2 464.7 L620.5 466.8 L620.8 469.6 L621.1 472.8 L621.4 476.4 L621.8 480.0 L622.1 483.6 L622.4 486.8 L622.7 489.6 L623.0 491.7 L623.3 493.0 L623.6 493.4 L623.9 490.7 L624.3 483.3 L624.6 473.2 L624.9 463.1 L625.3 455.7 L625.6 453.0 L626.0 458.0 L626.3 470.0 L626.6 482.0 L627.0 487.0 L627.4 483.8 L627.7 476.0 L628.0 468.2 L628.4 465.0 L628.7 465.7 L629.0 467.9 L629.4 471.2 L629.7 475.4 L630.0 480.0 L630.3 484.6 L630.6 488.8 L631.0 492.1 L631.3 494.3 L631.6 495.0 L631.9 493.4 L632.3 488.8 L632.6 482.2 L633.0 474.8 L633.3 468.2 L633.7 463.6 L634.0 462.0 L634.3 463.7 L634.7 468.2 L635.0 474.5 L635.3 480.8 L635.7 485.3 L636.0 487.0 L636.3 485.5 L636.7 481.5 L637.0 476.0 L637.3 470.5 L637.7 466.5 L638.0 465.0 L638.3 465.7 L638.7 467.5 L639.0 470.0 L639.3 472.5 L639.7 474.3 L640.0 475.0 L640.3 474.9 L640.7 474.8 L641.0 474.5 L641.3 474.2 L641.7 474.1 L642.0 474.0 L642.5 480.1 L642.9 486.2 L643.2 485.5 L643.5 483.5 L643.8 480.3 L644.1 476.2 L644.4 471.6 L644.7 466.7 L645.0 462.1 L645.3 458.0 L645.6 454.8 L645.9 452.8 L646.2 452.1 L646.5 452.9 L646.8 455.4 L647.2 459.1 L647.5 463.9 L647.8 469.1 L648.1 474.4 L648.4 479.2 L648.8 482.9 L649.1 485.4 L649.4 486.2 L649.7 486.0 L650.1 485.4 L650.4 484.6 L650.7 483.6 L651.0 482.8 L651.4 482.2 L651.7 482.0 L652.0 481.1 L652.3 478.5 L652.7 474.5 L653.0 469.6 L653.3 464.5 L653.6 459.6 L654.0 455.6 L654.3 453.0 L654.6 452.1 L654.9 453.4 L655.3 457.0 L655.6 462.2 L656.0 467.9 L656.3 473.1 L656.7 476.7 L657.0 478.0 L657.3 478.6 L657.7 480.2 L658.0 482.3 L658.3 484.5 L658.7 486.1 L659.0 486.7 L659.3 485.8 L659.6 483.2 L659.9 479.5 L660.2 475.5 L660.5 471.8 L660.8 469.2 L661.1 468.3 L661.4 467.9 L661.7 466.9 L662.0 465.5 L662.3 463.8 L662.6 462.4 L662.9 461.4 L663.2 461.0 L663.5 462.6 L663.9 466.9 L664.2 472.8 L664.5 478.7 L664.9 483.0 L665.2 484.6 L665.5 484.1 L665.8 482.8 L666.1 480.7 L666.4 478.2 L666.8 475.5 L667.1 473.0 L667.4 470.9 L667.7 469.6 L668.0 469.1 L668.3 470.3 L668.6 473.3 L669.0 477.1 L669.3 480.1 L669.6 481.3 L669.9 478.9 L670.2 473.2 L670.6 467.5 L670.9 465.1 L671.2 465.5 L671.5 466.5 L671.8 468.2 L672.1 470.4 L672.4 472.9 L672.8 475.6 L673.1 478.4 L673.4 480.9 L673.7 483.1 L674.0 484.8 L674.3 485.8 L674.6 486.2 L674.9 485.9 L675.2 484.9 L675.5 483.3 L675.8 481.3 L676.1 479.0 L676.4 476.4 L676.7 473.9 L677.0 471.6 L677.3 469.6 L677.6 468.0 L677.9 467.0 L678.2 466.7 L678.5 467.3 L678.9 469.1 L679.2 471.8 L679.6 474.6 L679.9 477.3 L680.3 479.1 L680.6 479.7 L680.9 478.9 L681.2 476.9 L681.6 474.8 L681.9 474.0 L682.2 475.2 L682.5 478.2 L682.9 482.0 L683.2 485.0 L683.5 486.2 L683.8 485.5 L684.2 483.6 L684.5 480.7 L684.8 476.9 L685.1 472.8 L685.5 468.7 L685.8 464.9 L686.1 462.0 L686.5 460.1 L686.8 459.4 L687.1 460.9 L687.4 464.9 L687.8 470.3 L688.1 475.8 L688.4 479.8 L688.7 481.3 L689.0 480.4 L689.4 478.1 L689.7 474.8 L690.0 471.6 L690.4 469.2 L690.7 468.3 L691.1 469.4 L691.4 472.6 L691.8 476.8 L692.1 481.1 L692.4 484.3 L692.8 485.4 L693.1 484.6 L693.4 482.2 L693.7 478.8 L694.0 474.9 L694.3 471.5 L694.6 469.1 L694.9 468.3 L695.2 468.7 L695.6 469.8 L695.9 471.4 L696.2 473.3 L696.5 474.9 L696.9 476.0 L697.2 476.4 L697.5 476.0 L697.9 475.2 L698.2 474.4 L698.5 474.0 L698.8 474.5 L699.1 475.7 L699.5 477.2 L699.8 478.4 L700.1 478.9 L700.4 478.6 L700.7 477.8 L701.0 476.6 L701.4 475.2 L701.7 473.9 L702.0 472.7 L702.3 471.9 L702.6 471.6 L702.9 472.3 L703.3 474.1 L703.6 476.8 L704.0 479.8 L704.3 482.5 L704.7 484.3 L705.0 485.0 L705.3 484.5 L705.6 483.1 L706.0 481.0 L706.3 478.4 L706.6 475.7 L706.9 473.1 L707.3 471.0 L707.6 469.6 L707.9 469.1 L708.2 469.4 L708.5 470.3 L708.8 471.6 L709.1 473.3 L709.5 475.2 L709.8 477.1 L710.1 478.8 L710.4 480.1 L710.7 481.0 L711.0 481.3 L711.3 480.1 L711.6 476.8 L712.0 472.8 L712.3 469.5 L712.6 468.3 L712.9 468.6 L713.2 469.6 L713.5 471.1 L713.8 473.1 L714.1 475.3 L714.5 477.6 L714.8 479.8 L715.1 481.8 L715.4 483.3 L715.7 484.3 L716.0 484.6 L716.3 483.5 L716.7 480.3 L717.0 476.1 L717.3 471.8 L717.7 468.6 L718.0 467.5 L718.3 467.9 L718.7 469.2 L719.0 471.0 L719.4 472.9 L719.7 474.7 L720.1 476.0 L720.4 476.4 L720.7 476.2 L721.0 475.6 L721.4 474.8 L721.7 474.2 L722.0 474.0 L722.3 474.1 L722.6 474.4 L722.9 474.9 L723.3 475.6 L723.6 476.4 L723.9 477.2 L724.2 478.1 L724.5 478.9 L724.8 479.7 L725.2 480.4 L725.5 480.9 L725.8 481.2 L726.1 481.3 L726.4 480.7 L726.7 479.2 L727.0 476.9 L727.3 474.3 L727.6 472.0 L727.9 470.5 L728.2 469.9 L728.5 470.1 L728.8 470.7 L729.1 471.6 L729.4 472.8 L729.8 474.0 L730.1 475.1 L730.4 476.1 L730.7 476.7 L731.0 476.9 L731.3 476.8 L731.6 476.4 L731.9 475.8 L732.2 475.0 L732.5 474.1 L732.8 473.1 L733.1 472.2 L733.4 471.3 L733.7 470.5 L734.0 469.9 L734.3 469.5 L734.6 469.4 L734.9 469.6 L735.2 470.1 L735.5 471.0 L735.8 472.1 L736.1 473.5 L736.4 475.0 L736.8 476.5 L737.1 478.0 L737.4 479.4 L737.7 480.5 L738.0 481.4 L738.3 481.9 L738.6 482.1 L738.9 481.8 L739.2 480.9 L739.5 479.5 L739.8 477.7 L740.1 475.8 L740.4 473.8 L740.7 472.0 L741.0 470.6 L741.3 469.7 L741.6 469.4 L741.9 470.3 L742.2 472.8 L742.5 476.1 L742.9 479.5 L743.2 482.0 L743.5 482.9 L743.8 482.1 L744.1 479.9 L744.4 476.6 L744.7 473.0 L745.0 469.7 L745.3 467.5 L745.6 466.7 L745.9 467.3 L746.3 469.1 L746.6 471.5 L746.9 474.0 L747.3 475.8 L747.6 476.4 L747.9 476.3 L748.2 475.9 L748.5 475.5 L748.8 474.9 L749.1 474.5 L749.4 474.1 L749.7 474.0 L750.0 474.4 L750.4 475.4 L750.7 476.8 L751.1 478.5 L751.4 479.9 L751.8 480.9 L752.1 481.3 L752.4 481.0 L752.7 480.1 L753.0 478.8 L753.4 477.2 L753.7 475.7 L754.0 474.4 L754.3 473.5 L754.6 473.2 L754.9 473.0 L755.2 472.5 L755.5 471.7 L755.8 470.9 L756.1 470.1 L756.4 469.6 L756.7 469.4 L757.0 470.0 L757.3 471.8 L757.7 474.1 L758.0 476.5 L758.3 478.3 L758.6 478.9 L758.9 478.5 L759.3 477.5 L759.6 476.1 L759.9 474.6 L760.3 473.6 L760.6 473.2"/></g></g>
<g font-family='"Liberation Sans","Noto Sans CJK TC",sans-serif'>
<g fill="#0000ff" font-size="25" font-weight="bold">
<text x="253.75 280.25 304.95" y="27.5">恆春（</text>
<text x="403.05" y="27.5">）</text>
<text x="427.95 454.45 480.95" y="27.5">震度：</text>
<text x="523.15" y="27.5">級</text>
</g>
<g fill="#000" font-size="16">
<text x="65.65 82.65 99.65 116.65" y="48.3">地震資訊</text>
<text x="65.65 82.65 99.65 116.65 133.65" y="64.3">發震時間：</text>
<text x="65.65 82.65 99.65 116.65 133.65 150.65 167.65" y="80.3">震央位置：東經</text>
<text x="234.70 251.70 268.70 285.70" y="80.3">度，北緯</text>
<text x="343.70" y="80.3">度</text>
<text x="65.65 82.65 99.65 116.65" y="96.3">深　度：</text>
<text x="166.40 183.40 200.40 217.40 234.40 251.40 268.40 285.40" y="96.3">公里，芮氏規模：</text>
</g>
<g fill="#0000ff" font-size="16">
<text x="435.50 452.50 469.50 486.50" y="48.3">測站資訊</text>
<text x="435.50 452.50 469.50 486.50 503.50 520.50 537.50" y="64.3">波線起始時間：</text>
<text x="435.50 452.50 469.50 486.50 503.50 520.50 537.50" y="80.3">測站位置：東經</text>
<text x="604.40 621.40 638.40 654.60" y="80.3">度，北緯</text>
<text x="712.70" y="80.3">度</text>
<text x="435.50 452.50 469.50 486.50" y="96.3">震央距：</text>
<text x="554.20 571.20 588.20" y="96.3">公里，</text>
<text x="603.10 620.10 637.10 654.10 672.90" y="96.3">反方位角：</text>
<text x="739.90" y="96.3">度</text>
</g>
<text x="655.50 674.30 693.10 711.90 730.70" y="586.9" fill="#a6a6a6" font-size="17" font-weight="bold">中央氣象署</text>
</g>
</svg>
<span class="t" style="left:337.19px;top:2.06px;font-size:27px;color:#0000ff;font-weight:bold;letter-spacing:0.36px;">HEN</span>
<span class="t" style="left:507.05px;top:2.26px;font-size:27px;color:#0000ff;font-weight:bold;">1</span>
<span class="t" style="left:148.27px;top:48.86px;font-size:16.5px;color:#000;-webkit-text-stroke:0.3px #000;letter-spacing:-0.11px;">2025/08/22</span>
<span class="t" style="left:236.34px;top:48.86px;font-size:16.5px;color:#000;-webkit-text-stroke:0.3px #000;">14:06:15</span>
<span class="t" style="left:182.74px;top:64.86px;font-size:16.5px;color:#000;-webkit-text-stroke:0.3px #000;letter-spacing:-0.10px;">120.55</span>
<span class="t" style="left:300.17px;top:64.86px;font-size:16.5px;color:#000;-webkit-text-stroke:0.3px #000;letter-spacing:-0.03px;">23.16</span>
<span class="t" style="left:133.04px;top:80.66px;font-size:16.5px;color:#000;-webkit-text-stroke:0.3px #000;letter-spacing:-0.20px;">15.1</span>
<span class="t" style="left:299.74px;top:80.66px;font-size:16.5px;color:#000;-webkit-text-stroke:0.3px #000;letter-spacing:-0.10px;">5.4</span>
<span class="t" style="left:552.77px;top:48.86px;font-size:16.5px;color:#0000ff;-webkit-text-stroke:0.3px #0000ff;letter-spacing:-0.10px;">2025/08/22</span>
<span class="t" style="left:641.14px;top:48.86px;font-size:16.5px;color:#0000ff;-webkit-text-stroke:0.3px #0000ff;letter-spacing:-0.05px;">14:06:00</span>
<span class="t" style="left:552.74px;top:64.86px;font-size:16.5px;color:#0000ff;-webkit-text-stroke:0.3px #0000ff;letter-spacing:-0.10px;">120.75</span>
<span class="t" style="left:669.17px;top:64.86px;font-size:16.5px;color:#0000ff;-webkit-text-stroke:0.3px #0000ff;letter-spacing:-0.05px;">22.00</span>
<span class="t" style="left:501.74px;top:80.66px;font-size:16.5px;color:#0000ff;-webkit-text-stroke:0.3px #0000ff;letter-spacing:-0.10px;">129.96</span>
<span class="t" style="left:687.37px;top:80.66px;font-size:16.5px;color:#0000ff;-webkit-text-stroke:0.3px #0000ff;">351.11</span>
<span class="t" style="left:93.49px;top:108.13px;font-size:16.2px;color:#ff0000;-webkit-text-stroke:0.42px #ff0000;letter-spacing:-0.13px;">Z Max</span>
<span class="t" style="left:93.57px;top:128.33px;font-size:16.2px;color:#ff0000;-webkit-text-stroke:0.42px #ff0000;">0.48</span>
<span class="t" style="left:131.32px;top:128.33px;font-size:16.2px;color:#ff0000;-webkit-text-stroke:0.42px #ff0000;letter-spacing:0.57px;">gal</span>
<span class="t" style="left:92.67px;top:258.13px;font-size:16.2px;color:#ff0000;-webkit-text-stroke:0.42px #ff0000;">NS Max</span>
<span class="t" style="left:93.97px;top:278.33px;font-size:16.2px;color:#ff0000;-webkit-text-stroke:0.42px #ff0000;">1.19</span>
<span class="t" style="left:131.32px;top:278.33px;font-size:16.2px;color:#ff0000;-webkit-text-stroke:0.42px #ff0000;letter-spacing:0.57px;">gal</span>
<span class="t" style="left:92.67px;top:408.13px;font-size:16.2px;color:#ff0000;-webkit-text-stroke:0.42px #ff0000;">EW Max</span>
<span class="t" style="left:93.97px;top:428.33px;font-size:16.2px;color:#ff0000;-webkit-text-stroke:0.42px #ff0000;">1.30</span>
<span class="t" style="left:131.32px;top:428.33px;font-size:16.2px;color:#ff0000;-webkit-text-stroke:0.42px #ff0000;letter-spacing:0.57px;">gal</span>
<span class="t" style="left:52.64px;top:98.94px;font-size:14px;color:#000;font-weight:bold;">0.6</span>
<span class="t" style="left:52.21px;top:121.94px;font-size:14px;color:#000;font-weight:bold;">0.4</span>
<span class="t" style="left:52.70px;top:143.94px;font-size:14px;color:#000;font-weight:bold;">0.2</span>
<span class="t" style="left:64.39px;top:166.94px;font-size:14px;color:#000;font-weight:bold;">0</span>
<span class="t" style="left:48.04px;top:189.94px;font-size:14px;color:#000;font-weight:bold;">-0.2</span>
<span class="t" style="left:47.55px;top:211.94px;font-size:14px;color:#000;font-weight:bold;">-0.4</span>
<span class="t" style="left:47.98px;top:234.94px;font-size:14px;color:#000;font-weight:bold;">-0.6</span>
<span class="t" style="left:52.53px;top:248.94px;font-size:14px;color:#000;font-weight:bold;">1.5</span>
<span class="t" style="left:64.20px;top:271.94px;font-size:14px;color:#000;font-weight:bold;">1</span>
<span class="t" style="left:52.53px;top:293.94px;font-size:14px;color:#000;font-weight:bold;">0.5</span>
<span class="t" style="left:64.39px;top:316.94px;font-size:14px;color:#000;font-weight:bold;">0</span>
<span class="t" style="left:47.87px;top:339.94px;font-size:14px;color:#000;font-weight:bold;">-0.5</span>
<span class="t" style="left:59.54px;top:361.94px;font-size:14px;color:#000;font-weight:bold;">-1</span>
<span class="t" style="left:47.87px;top:384.94px;font-size:14px;color:#000;font-weight:bold;">-1.5</span>
<span class="t" style="left:52.53px;top:398.94px;font-size:14px;color:#000;font-weight:bold;">1.5</span>
<span class="t" style="left:64.20px;top:421.94px;font-size:14px;color:#000;font-weight:bold;">1</span>
<span class="t" style="left:52.53px;top:443.94px;font-size:14px;color:#000;font-weight:bold;">0.5</span>
<span class="t" style="left:64.39px;top:466.94px;font-size:14px;color:#000;font-weight:bold;">0</span>
<span class="t" style="left:47.87px;top:489.94px;font-size:14px;color:#000;font-weight:bold;">-0.5</span>
<span class="t" style="left:59.54px;top:511.94px;font-size:14px;color:#000;font-weight:bold;">-1</span>
<span class="t" style="left:47.87px;top:534.94px;font-size:14px;color:#000;font-weight:bold;">-1.5</span>
<span class="t" style="left:76.62px;top:549.63px;font-size:14px;color:#000;font-weight:bold;">0</span>
<span class="t" style="left:148.56px;top:549.63px;font-size:14px;color:#000;font-weight:bold;">10</span>
<span class="t" style="left:223.76px;top:549.63px;font-size:14px;color:#000;font-weight:bold;">20</span>
<span class="t" style="left:299.84px;top:549.63px;font-size:14px;color:#000;font-weight:bold;">30</span>
<span class="t" style="left:374.90px;top:549.63px;font-size:14px;color:#000;font-weight:bold;">40</span>
<span class="t" style="left:450.79px;top:549.63px;font-size:14px;color:#000;font-weight:bold;">50</span>
<span class="t" style="left:526.74px;top:549.63px;font-size:14px;color:#000;font-weight:bold;">60</span>
<span class="t" style="left:601.70px;top:549.63px;font-size:14px;color:#000;font-weight:bold;">70</span>
<span class="t" style="left:677.78px;top:549.63px;font-size:14px;color:#000;font-weight:bold;">80</span>
<span class="t" style="left:372.04px;top:571.72px;font-size:16px;color:#000;font-weight:bold;letter-spacing:0.28px;">second</span>
<span class="t" style="left:30.8px;top:302px;font-size:16px;font-weight:bold;color:#000;transform:translate(-50%,-50%) rotate(-90deg);transform-origin:50% 50%;line-height:16px">acceleration</span>
</div>
</body></html>
